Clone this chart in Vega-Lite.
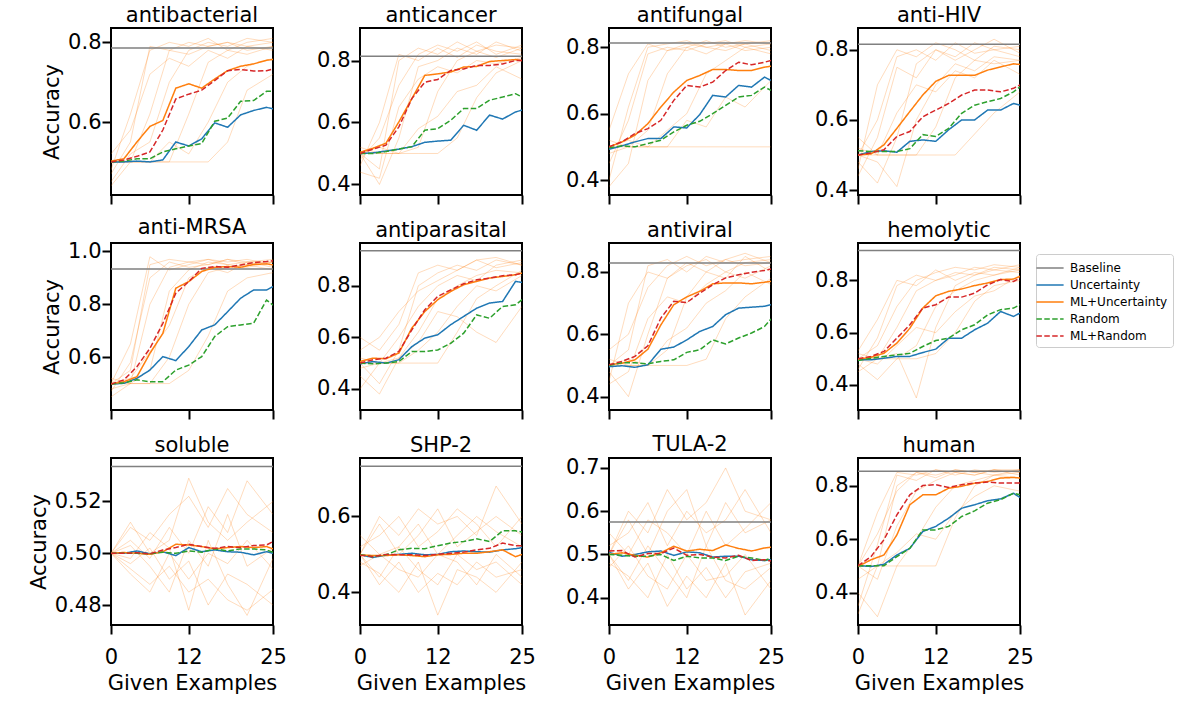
{
"$schema":"https://vega.github.io/schema/vega-lite/v6.json",
"background":"white",
"padding":{"left":27,"top":4,"right":5,"bottom":5},
"config":{
"font":"DejaVu Sans",
"view":{"stroke":"black","strokeWidth":2},
"axis":{"domain":false,"grid":false,"tickColor":"black","tickWidth":2,"tickSize":9,"labelFont":"DejaVu Sans","labelFontSize":21,"labelColor":"black","titleFont":"DejaVu Sans","titleFontSize":21,"titleFontWeight":"normal","titleColor":"black","labelFlush":false,"labelOverlap":false},
"axisX":{"labelPadding":12,"titlePadding":5},
"axisY":{"labelPadding":1,"titlePadding":5},
"title":{"font":"DejaVu Sans","fontSize":21,"fontWeight":"normal","color":"black","anchor":"middle","frame":"group","offset":2},
"legend":{"orient":"none","legendX":925,"legendY":226,"labelFont":"DejaVu Sans","labelFontSize":12,"labelColor":"black","symbolType":"M-1.7,0H1.7","symbolSize":256,"strokeColor":"#cccccc","fillColor":"white","padding":5,"cornerRadius":3,"labelOffset":11,"rowPadding":2}
},
"datasets":{
"antibacterial":[
{"series":"Baseline","x":0,"acc":0.786},{"series":"Baseline","x":25,"acc":0.786},
{"series":"Uncertainty","x":0,"acc":0.5},{"series":"Uncertainty","x":2,"acc":0.5},{"series":"Uncertainty","x":4,"acc":0.502},{"series":"Uncertainty","x":6,"acc":0.5},{"series":"Uncertainty","x":8,"acc":0.505},{"series":"Uncertainty","x":10,"acc":0.55},{"series":"Uncertainty","x":12,"acc":0.54},{"series":"Uncertainty","x":14,"acc":0.558},{"series":"Uncertainty","x":16,"acc":0.598},{"series":"Uncertainty","x":18,"acc":0.587},{"series":"Uncertainty","x":20,"acc":0.618},{"series":"Uncertainty","x":22,"acc":0.629},{"series":"Uncertainty","x":24,"acc":0.637},{"series":"Uncertainty","x":25,"acc":0.633},
{"series":"ML+Uncertainty","x":0,"acc":0.502},{"series":"ML+Uncertainty","x":2,"acc":0.508},{"series":"ML+Uncertainty","x":4,"acc":0.55},{"series":"ML+Uncertainty","x":6,"acc":0.589},{"series":"ML+Uncertainty","x":8,"acc":0.604},{"series":"ML+Uncertainty","x":10,"acc":0.685},{"series":"ML+Uncertainty","x":12,"acc":0.696},{"series":"ML+Uncertainty","x":14,"acc":0.685},{"series":"ML+Uncertainty","x":16,"acc":0.708},{"series":"ML+Uncertainty","x":18,"acc":0.729},{"series":"ML+Uncertainty","x":20,"acc":0.74},{"series":"ML+Uncertainty","x":22,"acc":0.746},{"series":"ML+Uncertainty","x":24,"acc":0.755},{"series":"ML+Uncertainty","x":25,"acc":0.757},
{"series":"Random","x":0,"acc":0.5},{"series":"Random","x":2,"acc":0.502},{"series":"Random","x":4,"acc":0.508},{"series":"Random","x":6,"acc":0.508},{"series":"Random","x":8,"acc":0.525},{"series":"Random","x":10,"acc":0.533},{"series":"Random","x":12,"acc":0.54},{"series":"Random","x":14,"acc":0.546},{"series":"Random","x":16,"acc":0.602},{"series":"Random","x":18,"acc":0.61},{"series":"Random","x":20,"acc":0.652},{"series":"Random","x":22,"acc":0.654},{"series":"Random","x":24,"acc":0.677},{"series":"Random","x":25,"acc":0.677},
{"series":"ML+Random","x":0,"acc":0.5},{"series":"ML+Random","x":2,"acc":0.505},{"series":"ML+Random","x":4,"acc":0.514},{"series":"ML+Random","x":6,"acc":0.525},{"series":"ML+Random","x":8,"acc":0.58},{"series":"ML+Random","x":10,"acc":0.658},{"series":"ML+Random","x":12,"acc":0.67},{"series":"ML+Random","x":14,"acc":0.68},{"series":"ML+Random","x":16,"acc":0.704},{"series":"ML+Random","x":18,"acc":0.729},{"series":"ML+Random","x":20,"acc":0.732},{"series":"ML+Random","x":22,"acc":0.728},{"series":"ML+Random","x":24,"acc":0.729},{"series":"ML+Random","x":25,"acc":0.733}
],
"anticancer":[
{"series":"Baseline","x":0,"acc":0.814},{"series":"Baseline","x":25,"acc":0.814},
{"series":"Uncertainty","x":0,"acc":0.5},{"series":"Uncertainty","x":2,"acc":0.502},{"series":"Uncertainty","x":4,"acc":0.508},{"series":"Uncertainty","x":6,"acc":0.514},{"series":"Uncertainty","x":8,"acc":0.522},{"series":"Uncertainty","x":10,"acc":0.536},{"series":"Uncertainty","x":12,"acc":0.54},{"series":"Uncertainty","x":14,"acc":0.543},{"series":"Uncertainty","x":16,"acc":0.591},{"series":"Uncertainty","x":18,"acc":0.575},{"series":"Uncertainty","x":20,"acc":0.624},{"series":"Uncertainty","x":22,"acc":0.611},{"series":"Uncertainty","x":24,"acc":0.634},{"series":"Uncertainty","x":25,"acc":0.64},
{"series":"ML+Uncertainty","x":0,"acc":0.504},{"series":"ML+Uncertainty","x":2,"acc":0.517},{"series":"ML+Uncertainty","x":4,"acc":0.533},{"series":"ML+Uncertainty","x":6,"acc":0.602},{"series":"ML+Uncertainty","x":8,"acc":0.677},{"series":"ML+Uncertainty","x":10,"acc":0.752},{"series":"ML+Uncertainty","x":12,"acc":0.757},{"series":"ML+Uncertainty","x":14,"acc":0.763},{"series":"ML+Uncertainty","x":16,"acc":0.779},{"series":"ML+Uncertainty","x":18,"acc":0.781},{"series":"ML+Uncertainty","x":20,"acc":0.797},{"series":"ML+Uncertainty","x":22,"acc":0.8},{"series":"ML+Uncertainty","x":24,"acc":0.803},{"series":"ML+Uncertainty","x":25,"acc":0.8},
{"series":"Random","x":0,"acc":0.5},{"series":"Random","x":2,"acc":0.5},{"series":"Random","x":4,"acc":0.506},{"series":"Random","x":6,"acc":0.514},{"series":"Random","x":8,"acc":0.522},{"series":"Random","x":10,"acc":0.575},{"series":"Random","x":12,"acc":0.58},{"series":"Random","x":14,"acc":0.607},{"series":"Random","x":16,"acc":0.645},{"series":"Random","x":18,"acc":0.645},{"series":"Random","x":20,"acc":0.672},{"series":"Random","x":22,"acc":0.682},{"series":"Random","x":24,"acc":0.693},{"series":"Random","x":25,"acc":0.682},
{"series":"ML+Random","x":0,"acc":0.5},{"series":"ML+Random","x":2,"acc":0.514},{"series":"ML+Random","x":4,"acc":0.527},{"series":"ML+Random","x":6,"acc":0.586},{"series":"ML+Random","x":8,"acc":0.677},{"series":"ML+Random","x":10,"acc":0.73},{"series":"ML+Random","x":12,"acc":0.739},{"series":"ML+Random","x":14,"acc":0.768},{"series":"ML+Random","x":16,"acc":0.773},{"series":"ML+Random","x":18,"acc":0.784},{"series":"ML+Random","x":20,"acc":0.784},{"series":"ML+Random","x":22,"acc":0.789},{"series":"ML+Random","x":24,"acc":0.8},{"series":"ML+Random","x":25,"acc":0.8}
],
"antifungal":[
{"series":"Baseline","x":0,"acc":0.813},{"series":"Baseline","x":25,"acc":0.813},
{"series":"Uncertainty","x":0,"acc":0.493},{"series":"Uncertainty","x":2,"acc":0.503},{"series":"Uncertainty","x":4,"acc":0.515},{"series":"Uncertainty","x":6,"acc":0.525},{"series":"Uncertainty","x":8,"acc":0.525},{"series":"Uncertainty","x":10,"acc":0.56},{"series":"Uncertainty","x":12,"acc":0.557},{"series":"Uncertainty","x":14,"acc":0.597},{"series":"Uncertainty","x":16,"acc":0.655},{"series":"Uncertainty","x":18,"acc":0.65},{"series":"Uncertainty","x":20,"acc":0.685},{"series":"Uncertainty","x":22,"acc":0.68},{"series":"Uncertainty","x":24,"acc":0.71},{"series":"Uncertainty","x":25,"acc":0.7},
{"series":"ML+Uncertainty","x":0,"acc":0.5},{"series":"ML+Uncertainty","x":2,"acc":0.515},{"series":"ML+Uncertainty","x":4,"acc":0.535},{"series":"ML+Uncertainty","x":6,"acc":0.57},{"series":"ML+Uncertainty","x":8,"acc":0.62},{"series":"ML+Uncertainty","x":10,"acc":0.665},{"series":"ML+Uncertainty","x":12,"acc":0.7},{"series":"ML+Uncertainty","x":14,"acc":0.715},{"series":"ML+Uncertainty","x":16,"acc":0.733},{"series":"ML+Uncertainty","x":18,"acc":0.733},{"series":"ML+Uncertainty","x":20,"acc":0.73},{"series":"ML+Uncertainty","x":22,"acc":0.73},{"series":"ML+Uncertainty","x":24,"acc":0.74},{"series":"ML+Uncertainty","x":25,"acc":0.743},
{"series":"Random","x":0,"acc":0.497},{"series":"Random","x":2,"acc":0.503},{"series":"Random","x":4,"acc":0.5},{"series":"Random","x":6,"acc":0.51},{"series":"Random","x":8,"acc":0.52},{"series":"Random","x":10,"acc":0.545},{"series":"Random","x":12,"acc":0.565},{"series":"Random","x":14,"acc":0.577},{"series":"Random","x":16,"acc":0.6},{"series":"Random","x":18,"acc":0.625},{"series":"Random","x":20,"acc":0.65},{"series":"Random","x":22,"acc":0.655},{"series":"Random","x":24,"acc":0.68},{"series":"Random","x":25,"acc":0.67},
{"series":"ML+Random","x":0,"acc":0.5},{"series":"ML+Random","x":2,"acc":0.515},{"series":"ML+Random","x":4,"acc":0.54},{"series":"ML+Random","x":6,"acc":0.555},{"series":"ML+Random","x":8,"acc":0.58},{"series":"ML+Random","x":10,"acc":0.64},{"series":"ML+Random","x":12,"acc":0.685},{"series":"ML+Random","x":14,"acc":0.68},{"series":"ML+Random","x":16,"acc":0.695},{"series":"ML+Random","x":18,"acc":0.73},{"series":"ML+Random","x":20,"acc":0.755},{"series":"ML+Random","x":22,"acc":0.747},{"series":"ML+Random","x":24,"acc":0.755},{"series":"ML+Random","x":25,"acc":0.76}
],
"antiHIV":[
{"series":"Baseline","x":0,"acc":0.816},{"series":"Baseline","x":25,"acc":0.816},
{"series":"Uncertainty","x":0,"acc":0.5},{"series":"Uncertainty","x":2,"acc":0.51},{"series":"Uncertainty","x":4,"acc":0.512},{"series":"Uncertainty","x":6,"acc":0.508},{"series":"Uncertainty","x":8,"acc":0.539},{"series":"Uncertainty","x":10,"acc":0.543},{"series":"Uncertainty","x":12,"acc":0.539},{"series":"Uncertainty","x":14,"acc":0.572},{"series":"Uncertainty","x":16,"acc":0.6},{"series":"Uncertainty","x":18,"acc":0.6},{"series":"Uncertainty","x":20,"acc":0.628},{"series":"Uncertainty","x":22,"acc":0.628},{"series":"Uncertainty","x":24,"acc":0.647},{"series":"Uncertainty","x":25,"acc":0.642},
{"series":"ML+Uncertainty","x":0,"acc":0.5},{"series":"ML+Uncertainty","x":2,"acc":0.503},{"series":"ML+Uncertainty","x":4,"acc":0.529},{"series":"ML+Uncertainty","x":6,"acc":0.576},{"series":"ML+Uncertainty","x":8,"acc":0.624},{"series":"ML+Uncertainty","x":10,"acc":0.671},{"series":"ML+Uncertainty","x":12,"acc":0.71},{"series":"ML+Uncertainty","x":14,"acc":0.727},{"series":"ML+Uncertainty","x":16,"acc":0.727},{"series":"ML+Uncertainty","x":18,"acc":0.727},{"series":"ML+Uncertainty","x":20,"acc":0.742},{"series":"ML+Uncertainty","x":22,"acc":0.751},{"series":"ML+Uncertainty","x":24,"acc":0.76},{"series":"ML+Uncertainty","x":25,"acc":0.758},
{"series":"Random","x":0,"acc":0.512},{"series":"Random","x":2,"acc":0.51},{"series":"Random","x":4,"acc":0.51},{"series":"Random","x":6,"acc":0.51},{"series":"Random","x":8,"acc":0.518},{"series":"Random","x":10,"acc":0.558},{"series":"Random","x":12,"acc":0.553},{"series":"Random","x":14,"acc":0.576},{"series":"Random","x":16,"acc":0.619},{"series":"Random","x":18,"acc":0.642},{"series":"Random","x":20,"acc":0.652},{"series":"Random","x":22,"acc":0.661},{"series":"Random","x":24,"acc":0.68},{"series":"Random","x":25,"acc":0.694},
{"series":"ML+Random","x":0,"acc":0.5},{"series":"ML+Random","x":2,"acc":0.506},{"series":"ML+Random","x":4,"acc":0.515},{"series":"ML+Random","x":6,"acc":0.553},{"series":"ML+Random","x":8,"acc":0.567},{"series":"ML+Random","x":10,"acc":0.609},{"series":"ML+Random","x":12,"acc":0.628},{"series":"ML+Random","x":14,"acc":0.647},{"series":"ML+Random","x":16,"acc":0.671},{"series":"ML+Random","x":18,"acc":0.685},{"series":"ML+Random","x":20,"acc":0.685},{"series":"ML+Random","x":22,"acc":0.68},{"series":"ML+Random","x":24,"acc":0.69},{"series":"ML+Random","x":25,"acc":0.7}
],
"antiMRSA":[
{"series":"Baseline","x":0,"acc":0.934},{"series":"Baseline","x":25,"acc":0.934},
{"series":"Uncertainty","x":0,"acc":0.498},{"series":"Uncertainty","x":2,"acc":0.501},{"series":"Uncertainty","x":4,"acc":0.52},{"series":"Uncertainty","x":6,"acc":0.551},{"series":"Uncertainty","x":8,"acc":0.602},{"series":"Uncertainty","x":10,"acc":0.587},{"series":"Uncertainty","x":12,"acc":0.64},{"series":"Uncertainty","x":14,"acc":0.703},{"series":"Uncertainty","x":16,"acc":0.722},{"series":"Uncertainty","x":18,"acc":0.772},{"series":"Uncertainty","x":20,"acc":0.823},{"series":"Uncertainty","x":22,"acc":0.854},{"series":"Uncertainty","x":24,"acc":0.854},{"series":"Uncertainty","x":25,"acc":0.867},
{"series":"ML+Uncertainty","x":0,"acc":0.498},{"series":"ML+Uncertainty","x":2,"acc":0.507},{"series":"ML+Uncertainty","x":4,"acc":0.526},{"series":"ML+Uncertainty","x":6,"acc":0.614},{"series":"ML+Uncertainty","x":8,"acc":0.69},{"series":"ML+Uncertainty","x":10,"acc":0.861},{"series":"ML+Uncertainty","x":12,"acc":0.886},{"series":"ML+Uncertainty","x":14,"acc":0.924},{"series":"ML+Uncertainty","x":16,"acc":0.94},{"series":"ML+Uncertainty","x":18,"acc":0.943},{"series":"ML+Uncertainty","x":20,"acc":0.94},{"series":"ML+Uncertainty","x":22,"acc":0.951},{"series":"ML+Uncertainty","x":24,"acc":0.953},{"series":"ML+Uncertainty","x":25,"acc":0.949},
{"series":"Random","x":0,"acc":0.498},{"series":"Random","x":2,"acc":0.503},{"series":"Random","x":4,"acc":0.514},{"series":"Random","x":6,"acc":0.507},{"series":"Random","x":8,"acc":0.507},{"series":"Random","x":10,"acc":0.551},{"series":"Random","x":12,"acc":0.57},{"series":"Random","x":14,"acc":0.602},{"series":"Random","x":16,"acc":0.678},{"series":"Random","x":18,"acc":0.715},{"series":"Random","x":20,"acc":0.722},{"series":"Random","x":22,"acc":0.728},{"series":"Random","x":24,"acc":0.816},{"series":"Random","x":25,"acc":0.797},
{"series":"ML+Random","x":0,"acc":0.498},{"series":"ML+Random","x":2,"acc":0.514},{"series":"ML+Random","x":4,"acc":0.564},{"series":"ML+Random","x":6,"acc":0.633},{"series":"ML+Random","x":8,"acc":0.728},{"series":"ML+Random","x":10,"acc":0.842},{"series":"ML+Random","x":12,"acc":0.886},{"series":"ML+Random","x":14,"acc":0.936},{"series":"ML+Random","x":16,"acc":0.943},{"series":"ML+Random","x":18,"acc":0.94},{"series":"ML+Random","x":20,"acc":0.949},{"series":"ML+Random","x":22,"acc":0.958},{"series":"ML+Random","x":24,"acc":0.962},{"series":"ML+Random","x":25,"acc":0.965}
],
"antiparasital":[
{"series":"Baseline","x":0,"acc":0.936},{"series":"Baseline","x":25,"acc":0.936},
{"series":"Uncertainty","x":0,"acc":0.497},{"series":"Uncertainty","x":2,"acc":0.506},{"series":"Uncertainty","x":4,"acc":0.5},{"series":"Uncertainty","x":6,"acc":0.513},{"series":"Uncertainty","x":8,"acc":0.564},{"series":"Uncertainty","x":10,"acc":0.597},{"series":"Uncertainty","x":12,"acc":0.61},{"series":"Uncertainty","x":14,"acc":0.649},{"series":"Uncertainty","x":16,"acc":0.681},{"series":"Uncertainty","x":18,"acc":0.713},{"series":"Uncertainty","x":20,"acc":0.733},{"series":"Uncertainty","x":22,"acc":0.739},{"series":"Uncertainty","x":24,"acc":0.817},{"series":"Uncertainty","x":25,"acc":0.813},
{"series":"ML+Uncertainty","x":0,"acc":0.506},{"series":"ML+Uncertainty","x":2,"acc":0.519},{"series":"ML+Uncertainty","x":4,"acc":0.517},{"series":"ML+Uncertainty","x":6,"acc":0.539},{"series":"ML+Uncertainty","x":8,"acc":0.636},{"series":"ML+Uncertainty","x":10,"acc":0.7},{"series":"ML+Uncertainty","x":12,"acc":0.746},{"series":"ML+Uncertainty","x":14,"acc":0.778},{"series":"ML+Uncertainty","x":16,"acc":0.804},{"series":"ML+Uncertainty","x":18,"acc":0.817},{"series":"ML+Uncertainty","x":20,"acc":0.83},{"series":"ML+Uncertainty","x":22,"acc":0.836},{"series":"ML+Uncertainty","x":24,"acc":0.843},{"series":"ML+Uncertainty","x":25,"acc":0.849},
{"series":"Random","x":0,"acc":0.5},{"series":"Random","x":2,"acc":0.497},{"series":"Random","x":4,"acc":0.5},{"series":"Random","x":6,"acc":0.506},{"series":"Random","x":8,"acc":0.545},{"series":"Random","x":10,"acc":0.545},{"series":"Random","x":12,"acc":0.551},{"series":"Random","x":14,"acc":0.577},{"series":"Random","x":16,"acc":0.616},{"series":"Random","x":18,"acc":0.687},{"series":"Random","x":20,"acc":0.674},{"series":"Random","x":22,"acc":0.72},{"series":"Random","x":24,"acc":0.726},{"series":"Random","x":25,"acc":0.746},
{"series":"ML+Random","x":0,"acc":0.5},{"series":"ML+Random","x":2,"acc":0.513},{"series":"ML+Random","x":4,"acc":0.519},{"series":"ML+Random","x":6,"acc":0.545},{"series":"ML+Random","x":8,"acc":0.629},{"series":"ML+Random","x":10,"acc":0.707},{"series":"ML+Random","x":12,"acc":0.759},{"series":"ML+Random","x":14,"acc":0.784},{"series":"ML+Random","x":16,"acc":0.808},{"series":"ML+Random","x":18,"acc":0.823},{"series":"ML+Random","x":20,"acc":0.83},{"series":"ML+Random","x":22,"acc":0.839},{"series":"ML+Random","x":24,"acc":0.843},{"series":"ML+Random","x":25,"acc":0.849}
],
"antiviral":[
{"series":"Baseline","x":0,"acc":0.829},{"series":"Baseline","x":25,"acc":0.829},
{"series":"Uncertainty","x":0,"acc":0.496},{"series":"Uncertainty","x":2,"acc":0.499},{"series":"Uncertainty","x":4,"acc":0.494},{"series":"Uncertainty","x":6,"acc":0.502},{"series":"Uncertainty","x":8,"acc":0.552},{"series":"Uncertainty","x":10,"acc":0.559},{"series":"Uncertainty","x":12,"acc":0.582},{"series":"Uncertainty","x":14,"acc":0.609},{"series":"Uncertainty","x":16,"acc":0.625},{"series":"Uncertainty","x":18,"acc":0.663},{"series":"Uncertainty","x":20,"acc":0.684},{"series":"Uncertainty","x":22,"acc":0.687},{"series":"Uncertainty","x":24,"acc":0.69},{"series":"Uncertainty","x":25,"acc":0.695},
{"series":"ML+Uncertainty","x":0,"acc":0.502},{"series":"ML+Uncertainty","x":2,"acc":0.507},{"series":"ML+Uncertainty","x":4,"acc":0.518},{"series":"ML+Uncertainty","x":6,"acc":0.552},{"series":"ML+Uncertainty","x":8,"acc":0.63},{"series":"ML+Uncertainty","x":10,"acc":0.695},{"series":"ML+Uncertainty","x":12,"acc":0.72},{"series":"ML+Uncertainty","x":14,"acc":0.738},{"series":"ML+Uncertainty","x":16,"acc":0.762},{"series":"ML+Uncertainty","x":18,"acc":0.765},{"series":"ML+Uncertainty","x":20,"acc":0.765},{"series":"ML+Uncertainty","x":22,"acc":0.762},{"series":"ML+Uncertainty","x":24,"acc":0.767},{"series":"ML+Uncertainty","x":25,"acc":0.77},
{"series":"Random","x":0,"acc":0.5},{"series":"Random","x":2,"acc":0.509},{"series":"Random","x":4,"acc":0.509},{"series":"Random","x":6,"acc":0.505},{"series":"Random","x":8,"acc":0.513},{"series":"Random","x":10,"acc":0.518},{"series":"Random","x":12,"acc":0.542},{"series":"Random","x":14,"acc":0.55},{"series":"Random","x":16,"acc":0.582},{"series":"Random","x":18,"acc":0.569},{"series":"Random","x":20,"acc":0.588},{"series":"Random","x":22,"acc":0.604},{"series":"Random","x":24,"acc":0.625},{"series":"Random","x":25,"acc":0.649},
{"series":"ML+Random","x":0,"acc":0.502},{"series":"ML+Random","x":2,"acc":0.513},{"series":"ML+Random","x":4,"acc":0.529},{"series":"ML+Random","x":6,"acc":0.563},{"series":"ML+Random","x":8,"acc":0.652},{"series":"ML+Random","x":10,"acc":0.706},{"series":"ML+Random","x":12,"acc":0.702},{"series":"ML+Random","x":14,"acc":0.732},{"series":"ML+Random","x":16,"acc":0.759},{"series":"ML+Random","x":18,"acc":0.781},{"series":"ML+Random","x":20,"acc":0.791},{"series":"ML+Random","x":22,"acc":0.799},{"series":"ML+Random","x":24,"acc":0.805},{"series":"ML+Random","x":25,"acc":0.81}
],
"hemolytic":[
{"series":"Baseline","x":0,"acc":0.914},{"series":"Baseline","x":25,"acc":0.914},
{"series":"Uncertainty","x":0,"acc":0.496},{"series":"Uncertainty","x":2,"acc":0.496},{"series":"Uncertainty","x":4,"acc":0.502},{"series":"Uncertainty","x":6,"acc":0.509},{"series":"Uncertainty","x":8,"acc":0.509},{"series":"Uncertainty","x":10,"acc":0.524},{"series":"Uncertainty","x":12,"acc":0.537},{"series":"Uncertainty","x":14,"acc":0.579},{"series":"Uncertainty","x":16,"acc":0.579},{"series":"Uncertainty","x":18,"acc":0.611},{"series":"Uncertainty","x":20,"acc":0.636},{"series":"Uncertainty","x":22,"acc":0.681},{"series":"Uncertainty","x":24,"acc":0.662},{"series":"Uncertainty","x":25,"acc":0.675},
{"series":"ML+Uncertainty","x":0,"acc":0.498},{"series":"ML+Uncertainty","x":2,"acc":0.506},{"series":"ML+Uncertainty","x":4,"acc":0.521},{"series":"ML+Uncertainty","x":6,"acc":0.56},{"series":"ML+Uncertainty","x":8,"acc":0.617},{"series":"ML+Uncertainty","x":10,"acc":0.694},{"series":"ML+Uncertainty","x":12,"acc":0.741},{"series":"ML+Uncertainty","x":14,"acc":0.758},{"series":"ML+Uncertainty","x":16,"acc":0.767},{"series":"ML+Uncertainty","x":18,"acc":0.78},{"series":"ML+Uncertainty","x":20,"acc":0.79},{"series":"ML+Uncertainty","x":22,"acc":0.803},{"series":"ML+Uncertainty","x":24,"acc":0.805},{"series":"ML+Uncertainty","x":25,"acc":0.815},
{"series":"Random","x":0,"acc":0.493},{"series":"Random","x":2,"acc":0.502},{"series":"Random","x":4,"acc":0.509},{"series":"Random","x":6,"acc":0.515},{"series":"Random","x":8,"acc":0.521},{"series":"Random","x":10,"acc":0.547},{"series":"Random","x":12,"acc":0.57},{"series":"Random","x":14,"acc":0.579},{"series":"Random","x":16,"acc":0.611},{"series":"Random","x":18,"acc":0.63},{"series":"Random","x":20,"acc":0.668},{"series":"Random","x":22,"acc":0.688},{"series":"Random","x":24,"acc":0.694},{"series":"Random","x":25,"acc":0.707},
{"series":"ML+Random","x":0,"acc":0.5},{"series":"ML+Random","x":2,"acc":0.509},{"series":"ML+Random","x":4,"acc":0.528},{"series":"ML+Random","x":6,"acc":0.579},{"series":"ML+Random","x":8,"acc":0.63},{"series":"ML+Random","x":10,"acc":0.694},{"series":"ML+Random","x":12,"acc":0.707},{"series":"ML+Random","x":14,"acc":0.736},{"series":"ML+Random","x":16,"acc":0.736},{"series":"ML+Random","x":18,"acc":0.751},{"series":"ML+Random","x":20,"acc":0.783},{"series":"ML+Random","x":22,"acc":0.803},{"series":"ML+Random","x":24,"acc":0.796},{"series":"ML+Random","x":25,"acc":0.809}
],
"soluble":[
{"series":"Baseline","x":0,"acc":0.5335},{"series":"Baseline","x":25,"acc":0.5335},
{"series":"Uncertainty","x":0,"acc":0.5},{"series":"Uncertainty","x":2,"acc":0.5},{"series":"Uncertainty","x":4,"acc":0.5009},{"series":"Uncertainty","x":6,"acc":0.4998},{"series":"Uncertainty","x":8,"acc":0.5006},{"series":"Uncertainty","x":10,"acc":0.4991},{"series":"Uncertainty","x":12,"acc":0.5022},{"series":"Uncertainty","x":14,"acc":0.5006},{"series":"Uncertainty","x":16,"acc":0.5013},{"series":"Uncertainty","x":18,"acc":0.5006},{"series":"Uncertainty","x":20,"acc":0.5004},{"series":"Uncertainty","x":22,"acc":0.4994},{"series":"Uncertainty","x":24,"acc":0.5006},{"series":"Uncertainty","x":25,"acc":0.5},
{"series":"ML+Uncertainty","x":0,"acc":0.5},{"series":"ML+Uncertainty","x":2,"acc":0.5003},{"series":"ML+Uncertainty","x":4,"acc":0.5},{"series":"ML+Uncertainty","x":6,"acc":0.4996},{"series":"ML+Uncertainty","x":8,"acc":0.5006},{"series":"ML+Uncertainty","x":10,"acc":0.5035},{"series":"ML+Uncertainty","x":12,"acc":0.5032},{"series":"ML+Uncertainty","x":14,"acc":0.5026},{"series":"ML+Uncertainty","x":16,"acc":0.5017},{"series":"ML+Uncertainty","x":18,"acc":0.5022},{"series":"ML+Uncertainty","x":20,"acc":0.5026},{"series":"ML+Uncertainty","x":22,"acc":0.5022},{"series":"ML+Uncertainty","x":24,"acc":0.5026},{"series":"ML+Uncertainty","x":25,"acc":0.5017},
{"series":"Random","x":0,"acc":0.5},{"series":"Random","x":2,"acc":0.5},{"series":"Random","x":4,"acc":0.5},{"series":"Random","x":6,"acc":0.4998},{"series":"Random","x":8,"acc":0.5004},{"series":"Random","x":10,"acc":0.5},{"series":"Random","x":12,"acc":0.5009},{"series":"Random","x":14,"acc":0.5004},{"series":"Random","x":16,"acc":0.5017},{"series":"Random","x":18,"acc":0.5009},{"series":"Random","x":20,"acc":0.5017},{"series":"Random","x":22,"acc":0.5017},{"series":"Random","x":24,"acc":0.5013},{"series":"Random","x":25,"acc":0.5004},
{"series":"ML+Random","x":0,"acc":0.5},{"series":"ML+Random","x":2,"acc":0.5},{"series":"ML+Random","x":4,"acc":0.5002},{"series":"ML+Random","x":6,"acc":0.4998},{"series":"ML+Random","x":8,"acc":0.5013},{"series":"ML+Random","x":10,"acc":0.5022},{"series":"ML+Random","x":12,"acc":0.5035},{"series":"ML+Random","x":14,"acc":0.5026},{"series":"ML+Random","x":16,"acc":0.5019},{"series":"ML+Random","x":18,"acc":0.5026},{"series":"ML+Random","x":20,"acc":0.5022},{"series":"ML+Random","x":22,"acc":0.503},{"series":"ML+Random","x":24,"acc":0.5032},{"series":"ML+Random","x":25,"acc":0.5045}
],
"SHP2":[
{"series":"Baseline","x":0,"acc":0.732},{"series":"Baseline","x":25,"acc":0.732},
{"series":"Uncertainty","x":0,"acc":0.499},{"series":"Uncertainty","x":2,"acc":0.492},{"series":"Uncertainty","x":4,"acc":0.498},{"series":"Uncertainty","x":6,"acc":0.5},{"series":"Uncertainty","x":8,"acc":0.503},{"series":"Uncertainty","x":10,"acc":0.499},{"series":"Uncertainty","x":12,"acc":0.5},{"series":"Uncertainty","x":14,"acc":0.507},{"series":"Uncertainty","x":16,"acc":0.509},{"series":"Uncertainty","x":18,"acc":0.507},{"series":"Uncertainty","x":20,"acc":0.506},{"series":"Uncertainty","x":22,"acc":0.512},{"series":"Uncertainty","x":24,"acc":0.515},{"series":"Uncertainty","x":25,"acc":0.518},
{"series":"ML+Uncertainty","x":0,"acc":0.499},{"series":"ML+Uncertainty","x":2,"acc":0.497},{"series":"ML+Uncertainty","x":4,"acc":0.497},{"series":"ML+Uncertainty","x":6,"acc":0.499},{"series":"ML+Uncertainty","x":8,"acc":0.497},{"series":"ML+Uncertainty","x":10,"acc":0.494},{"series":"ML+Uncertainty","x":12,"acc":0.499},{"series":"ML+Uncertainty","x":14,"acc":0.5},{"series":"ML+Uncertainty","x":16,"acc":0.503},{"series":"ML+Uncertainty","x":18,"acc":0.503},{"series":"ML+Uncertainty","x":20,"acc":0.507},{"series":"ML+Uncertainty","x":22,"acc":0.512},{"series":"ML+Uncertainty","x":24,"acc":0.494},{"series":"ML+Uncertainty","x":25,"acc":0.5},
{"series":"Random","x":0,"acc":0.499},{"series":"Random","x":2,"acc":0.494},{"series":"Random","x":4,"acc":0.499},{"series":"Random","x":6,"acc":0.512},{"series":"Random","x":8,"acc":0.516},{"series":"Random","x":10,"acc":0.515},{"series":"Random","x":12,"acc":0.523},{"series":"Random","x":14,"acc":0.53},{"series":"Random","x":16,"acc":0.534},{"series":"Random","x":18,"acc":0.541},{"series":"Random","x":20,"acc":0.534},{"series":"Random","x":22,"acc":0.562},{"series":"Random","x":24,"acc":0.562},{"series":"Random","x":25,"acc":0.559},
{"series":"ML+Random","x":0,"acc":0.498},{"series":"ML+Random","x":2,"acc":0.494},{"series":"ML+Random","x":4,"acc":0.5},{"series":"ML+Random","x":6,"acc":0.499},{"series":"ML+Random","x":8,"acc":0.499},{"series":"ML+Random","x":10,"acc":0.497},{"series":"ML+Random","x":12,"acc":0.5},{"series":"ML+Random","x":14,"acc":0.503},{"series":"ML+Random","x":16,"acc":0.506},{"series":"ML+Random","x":18,"acc":0.512},{"series":"ML+Random","x":20,"acc":0.516},{"series":"ML+Random","x":22,"acc":0.53},{"series":"ML+Random","x":24,"acc":0.523},{"series":"ML+Random","x":25,"acc":0.523}
],
"TULA2":[
{"series":"Baseline","x":0,"acc":0.575},{"series":"Baseline","x":25,"acc":0.575},
{"series":"Uncertainty","x":0,"acc":0.505},{"series":"Uncertainty","x":2,"acc":0.496},{"series":"Uncertainty","x":4,"acc":0.5},{"series":"Uncertainty","x":6,"acc":0.506},{"series":"Uncertainty","x":8,"acc":0.508},{"series":"Uncertainty","x":10,"acc":0.498},{"series":"Uncertainty","x":12,"acc":0.506},{"series":"Uncertainty","x":14,"acc":0.504},{"series":"Uncertainty","x":16,"acc":0.494},{"series":"Uncertainty","x":18,"acc":0.496},{"series":"Uncertainty","x":20,"acc":0.496},{"series":"Uncertainty","x":22,"acc":0.488},{"series":"Uncertainty","x":24,"acc":0.486},{"series":"Uncertainty","x":25,"acc":0.488},
{"series":"ML+Uncertainty","x":0,"acc":0.5},{"series":"ML+Uncertainty","x":2,"acc":0.504},{"series":"ML+Uncertainty","x":4,"acc":0.498},{"series":"ML+Uncertainty","x":6,"acc":0.494},{"series":"ML+Uncertainty","x":8,"acc":0.504},{"series":"ML+Uncertainty","x":10,"acc":0.519},{"series":"ML+Uncertainty","x":12,"acc":0.508},{"series":"ML+Uncertainty","x":14,"acc":0.512},{"series":"ML+Uncertainty","x":16,"acc":0.509},{"series":"ML+Uncertainty","x":18,"acc":0.522},{"series":"ML+Uncertainty","x":20,"acc":0.514},{"series":"ML+Uncertainty","x":22,"acc":0.508},{"series":"ML+Uncertainty","x":24,"acc":0.515},{"series":"ML+Uncertainty","x":25,"acc":0.517},
{"series":"Random","x":0,"acc":0.5},{"series":"Random","x":2,"acc":0.498},{"series":"Random","x":4,"acc":0.496},{"series":"Random","x":6,"acc":0.496},{"series":"Random","x":8,"acc":0.5},{"series":"Random","x":10,"acc":0.486},{"series":"Random","x":12,"acc":0.496},{"series":"Random","x":14,"acc":0.492},{"series":"Random","x":16,"acc":0.492},{"series":"Random","x":18,"acc":0.486},{"series":"Random","x":20,"acc":0.496},{"series":"Random","x":22,"acc":0.492},{"series":"Random","x":24,"acc":0.486},{"series":"Random","x":25,"acc":0.492},
{"series":"ML+Random","x":0,"acc":0.508},{"series":"ML+Random","x":2,"acc":0.509},{"series":"ML+Random","x":4,"acc":0.494},{"series":"ML+Random","x":6,"acc":0.502},{"series":"ML+Random","x":8,"acc":0.502},{"series":"ML+Random","x":10,"acc":0.515},{"series":"ML+Random","x":12,"acc":0.498},{"series":"ML+Random","x":14,"acc":0.5},{"series":"ML+Random","x":16,"acc":0.494},{"series":"ML+Random","x":18,"acc":0.492},{"series":"ML+Random","x":20,"acc":0.498},{"series":"ML+Random","x":22,"acc":0.486},{"series":"ML+Random","x":24,"acc":0.488},{"series":"ML+Random","x":25,"acc":0.485}
],
"human":[
{"series":"Baseline","x":0,"acc":0.854},{"series":"Baseline","x":25,"acc":0.854},
{"series":"Uncertainty","x":0,"acc":0.501},{"series":"Uncertainty","x":2,"acc":0.498},{"series":"Uncertainty","x":4,"acc":0.506},{"series":"Uncertainty","x":6,"acc":0.541},{"series":"Uncertainty","x":8,"acc":0.566},{"series":"Uncertainty","x":10,"acc":0.629},{"series":"Uncertainty","x":12,"acc":0.648},{"series":"Uncertainty","x":14,"acc":0.679},{"series":"Uncertainty","x":16,"acc":0.716},{"series":"Uncertainty","x":18,"acc":0.729},{"series":"Uncertainty","x":20,"acc":0.744},{"series":"Uncertainty","x":22,"acc":0.751},{"series":"Uncertainty","x":24,"acc":0.772},{"series":"Uncertainty","x":25,"acc":0.756},
{"series":"ML+Uncertainty","x":0,"acc":0.498},{"series":"ML+Uncertainty","x":2,"acc":0.523},{"series":"ML+Uncertainty","x":4,"acc":0.541},{"series":"ML+Uncertainty","x":6,"acc":0.616},{"series":"ML+Uncertainty","x":8,"acc":0.729},{"series":"ML+Uncertainty","x":10,"acc":0.766},{"series":"ML+Uncertainty","x":12,"acc":0.766},{"series":"ML+Uncertainty","x":14,"acc":0.791},{"series":"ML+Uncertainty","x":16,"acc":0.798},{"series":"ML+Uncertainty","x":18,"acc":0.81},{"series":"ML+Uncertainty","x":20,"acc":0.816},{"series":"ML+Uncertainty","x":22,"acc":0.829},{"series":"ML+Uncertainty","x":24,"acc":0.831},{"series":"ML+Uncertainty","x":25,"acc":0.829},
{"series":"Random","x":0,"acc":0.5},{"series":"Random","x":2,"acc":0.501},{"series":"Random","x":4,"acc":0.501},{"series":"Random","x":6,"acc":0.535},{"series":"Random","x":8,"acc":0.566},{"series":"Random","x":10,"acc":0.635},{"series":"Random","x":12,"acc":0.635},{"series":"Random","x":14,"acc":0.648},{"series":"Random","x":16,"acc":0.685},{"series":"Random","x":18,"acc":0.706},{"series":"Random","x":20,"acc":0.735},{"series":"Random","x":22,"acc":0.748},{"series":"Random","x":24,"acc":0.772},{"series":"Random","x":25,"acc":0.766},
{"series":"ML+Random","x":0,"acc":0.5},{"series":"ML+Random","x":2,"acc":0.535},{"series":"ML+Random","x":4,"acc":0.598},{"series":"ML+Random","x":6,"acc":0.691},{"series":"ML+Random","x":8,"acc":0.766},{"series":"ML+Random","x":10,"acc":0.801},{"series":"ML+Random","x":12,"acc":0.804},{"series":"ML+Random","x":14,"acc":0.794},{"series":"ML+Random","x":16,"acc":0.804},{"series":"ML+Random","x":18,"acc":0.81},{"series":"ML+Random","x":20,"acc":0.814},{"series":"ML+Random","x":22,"acc":0.81},{"series":"ML+Random","x":24,"acc":0.81},{"series":"ML+Random","x":25,"acc":0.81}
],
"antibacterial_runs":[
{"run":1,"x":0,"acc":0.47},{"run":1,"x":3,"acc":0.55},{"run":1,"x":6,"acc":0.79},{"run":1,"x":9,"acc":0.78},{"run":1,"x":12,"acc":0.8},{"run":1,"x":15,"acc":0.79},{"run":1,"x":18,"acc":0.8},{"run":1,"x":21,"acc":0.79},{"run":1,"x":25,"acc":0.8},
{"run":2,"x":0,"acc":0.5},{"run":2,"x":3,"acc":0.5},{"run":2,"x":6,"acc":0.62},{"run":2,"x":9,"acc":0.78},{"run":2,"x":12,"acc":0.77},{"run":2,"x":15,"acc":0.79},{"run":2,"x":18,"acc":0.8},{"run":2,"x":21,"acc":0.78},{"run":2,"x":25,"acc":0.79},
{"run":3,"x":0,"acc":0.45},{"run":3,"x":3,"acc":0.52},{"run":3,"x":6,"acc":0.55},{"run":3,"x":9,"acc":0.7},{"run":3,"x":12,"acc":0.78},{"run":3,"x":15,"acc":0.8},{"run":3,"x":18,"acc":0.79},{"run":3,"x":21,"acc":0.81},{"run":3,"x":25,"acc":0.8},
{"run":4,"x":0,"acc":0.5},{"run":4,"x":3,"acc":0.5},{"run":4,"x":6,"acc":0.5},{"run":4,"x":9,"acc":0.5},{"run":4,"x":12,"acc":0.62},{"run":4,"x":15,"acc":0.75},{"run":4,"x":18,"acc":0.78},{"run":4,"x":21,"acc":0.77},{"run":4,"x":25,"acc":0.79},
{"run":5,"x":0,"acc":0.52},{"run":5,"x":3,"acc":0.58},{"run":5,"x":6,"acc":0.72},{"run":5,"x":9,"acc":0.76},{"run":5,"x":12,"acc":0.74},{"run":5,"x":15,"acc":0.78},{"run":5,"x":18,"acc":0.76},{"run":5,"x":21,"acc":0.79},{"run":5,"x":25,"acc":0.78},
{"run":6,"x":0,"acc":0.44},{"run":6,"x":3,"acc":0.5},{"run":6,"x":6,"acc":0.5},{"run":6,"x":9,"acc":0.55},{"run":6,"x":12,"acc":0.52},{"run":6,"x":15,"acc":0.6},{"run":6,"x":18,"acc":0.7},{"run":6,"x":21,"acc":0.74},{"run":6,"x":25,"acc":0.76},
{"run":7,"x":0,"acc":0.5},{"run":7,"x":3,"acc":0.5},{"run":7,"x":6,"acc":0.5},{"run":7,"x":9,"acc":0.5},{"run":7,"x":12,"acc":0.5},{"run":7,"x":15,"acc":0.5},{"run":7,"x":18,"acc":0.55},{"run":7,"x":21,"acc":0.68},{"run":7,"x":25,"acc":0.72},
{"run":8,"x":0,"acc":0.48},{"run":8,"x":3,"acc":0.62},{"run":8,"x":6,"acc":0.78},{"run":8,"x":9,"acc":0.8},{"run":8,"x":12,"acc":0.79},{"run":8,"x":15,"acc":0.81},{"run":8,"x":18,"acc":0.78},{"run":8,"x":21,"acc":0.8},{"run":8,"x":25,"acc":0.81}
],
"anticancer_runs":[
{"run":1,"x":0,"acc":0.5},{"run":1,"x":3,"acc":0.45},{"run":1,"x":6,"acc":0.8},{"run":1,"x":9,"acc":0.84},{"run":1,"x":12,"acc":0.82},{"run":1,"x":15,"acc":0.86},{"run":1,"x":18,"acc":0.83},{"run":1,"x":21,"acc":0.85},{"run":1,"x":25,"acc":0.84},
{"run":2,"x":0,"acc":0.48},{"run":2,"x":3,"acc":0.55},{"run":2,"x":6,"acc":0.72},{"run":2,"x":9,"acc":0.82},{"run":2,"x":12,"acc":0.85},{"run":2,"x":15,"acc":0.83},{"run":2,"x":18,"acc":0.86},{"run":2,"x":21,"acc":0.82},{"run":2,"x":25,"acc":0.85},
{"run":3,"x":0,"acc":0.5},{"run":3,"x":3,"acc":0.4},{"run":3,"x":6,"acc":0.55},{"run":3,"x":9,"acc":0.78},{"run":3,"x":12,"acc":0.8},{"run":3,"x":15,"acc":0.84},{"run":3,"x":18,"acc":0.82},{"run":3,"x":21,"acc":0.86},{"run":3,"x":25,"acc":0.83},
{"run":4,"x":0,"acc":0.52},{"run":4,"x":3,"acc":0.5},{"run":4,"x":6,"acc":0.5},{"run":4,"x":9,"acc":0.52},{"run":4,"x":12,"acc":0.7},{"run":4,"x":15,"acc":0.8},{"run":4,"x":18,"acc":0.83},{"run":4,"x":21,"acc":0.81},{"run":4,"x":25,"acc":0.84},
{"run":5,"x":0,"acc":0.46},{"run":5,"x":3,"acc":0.6},{"run":5,"x":6,"acc":0.82},{"run":5,"x":9,"acc":0.8},{"run":5,"x":12,"acc":0.84},{"run":5,"x":15,"acc":0.81},{"run":5,"x":18,"acc":0.85},{"run":5,"x":21,"acc":0.83},{"run":5,"x":25,"acc":0.82},
{"run":6,"x":0,"acc":0.5},{"run":6,"x":3,"acc":0.5},{"run":6,"x":6,"acc":0.5},{"run":6,"x":9,"acc":0.5},{"run":6,"x":12,"acc":0.5},{"run":6,"x":15,"acc":0.55},{"run":6,"x":18,"acc":0.68},{"run":6,"x":21,"acc":0.76},{"run":6,"x":25,"acc":0.8},
{"run":7,"x":0,"acc":0.44},{"run":7,"x":3,"acc":0.42},{"run":7,"x":6,"acc":0.65},{"run":7,"x":9,"acc":0.74},{"run":7,"x":12,"acc":0.78},{"run":7,"x":15,"acc":0.76},{"run":7,"x":18,"acc":0.8},{"run":7,"x":21,"acc":0.79},{"run":7,"x":25,"acc":0.81},
{"run":8,"x":0,"acc":0.5},{"run":8,"x":3,"acc":0.52},{"run":8,"x":6,"acc":0.5},{"run":8,"x":9,"acc":0.58},{"run":8,"x":12,"acc":0.62},{"run":8,"x":15,"acc":0.7},{"run":8,"x":18,"acc":0.72},{"run":8,"x":21,"acc":0.78},{"run":8,"x":25,"acc":0.74}
],
"antifungal_runs":[
{"run":1,"x":0,"acc":0.4},{"run":1,"x":3,"acc":0.62},{"run":1,"x":6,"acc":0.8},{"run":1,"x":9,"acc":0.81},{"run":1,"x":12,"acc":0.82},{"run":1,"x":15,"acc":0.8},{"run":1,"x":18,"acc":0.81},{"run":1,"x":21,"acc":0.82},{"run":1,"x":25,"acc":0.81},
{"run":2,"x":0,"acc":0.5},{"run":2,"x":3,"acc":0.5},{"run":2,"x":6,"acc":0.5},{"run":2,"x":9,"acc":0.5},{"run":2,"x":12,"acc":0.5},{"run":2,"x":15,"acc":0.5},{"run":2,"x":18,"acc":0.5},{"run":2,"x":21,"acc":0.5},{"run":2,"x":25,"acc":0.5},
{"run":3,"x":0,"acc":0.45},{"run":3,"x":3,"acc":0.58},{"run":3,"x":6,"acc":0.78},{"run":3,"x":9,"acc":0.8},{"run":3,"x":12,"acc":0.79},{"run":3,"x":15,"acc":0.81},{"run":3,"x":18,"acc":0.82},{"run":3,"x":21,"acc":0.8},{"run":3,"x":25,"acc":0.81},
{"run":4,"x":0,"acc":0.52},{"run":4,"x":3,"acc":0.5},{"run":4,"x":6,"acc":0.55},{"run":4,"x":9,"acc":0.72},{"run":4,"x":12,"acc":0.8},{"run":4,"x":15,"acc":0.78},{"run":4,"x":18,"acc":0.81},{"run":4,"x":21,"acc":0.79},{"run":4,"x":25,"acc":0.8},
{"run":5,"x":0,"acc":0.38},{"run":5,"x":3,"acc":0.45},{"run":5,"x":6,"acc":0.7},{"run":5,"x":9,"acc":0.79},{"run":5,"x":12,"acc":0.81},{"run":5,"x":15,"acc":0.8},{"run":5,"x":18,"acc":0.79},{"run":5,"x":21,"acc":0.81},{"run":5,"x":25,"acc":0.82},
{"run":6,"x":0,"acc":0.5},{"run":6,"x":3,"acc":0.52},{"run":6,"x":6,"acc":0.5},{"run":6,"x":9,"acc":0.55},{"run":6,"x":12,"acc":0.6},{"run":6,"x":15,"acc":0.72},{"run":6,"x":18,"acc":0.76},{"run":6,"x":21,"acc":0.8},{"run":6,"x":25,"acc":0.78},
{"run":7,"x":0,"acc":0.48},{"run":7,"x":3,"acc":0.5},{"run":7,"x":6,"acc":0.5},{"run":7,"x":9,"acc":0.5},{"run":7,"x":12,"acc":0.58},{"run":7,"x":15,"acc":0.56},{"run":7,"x":18,"acc":0.65},{"run":7,"x":21,"acc":0.62},{"run":7,"x":25,"acc":0.7},
{"run":8,"x":0,"acc":0.55},{"run":8,"x":3,"acc":0.72},{"run":8,"x":6,"acc":0.81},{"run":8,"x":9,"acc":0.79},{"run":8,"x":12,"acc":0.8},{"run":8,"x":15,"acc":0.82},{"run":8,"x":18,"acc":0.8},{"run":8,"x":21,"acc":0.81},{"run":8,"x":25,"acc":0.79}
],
"antiHIV_runs":[
{"run":1,"x":0,"acc":0.5},{"run":1,"x":3,"acc":0.6},{"run":1,"x":6,"acc":0.78},{"run":1,"x":9,"acc":0.8},{"run":1,"x":12,"acc":0.77},{"run":1,"x":15,"acc":0.82},{"run":1,"x":18,"acc":0.79},{"run":1,"x":21,"acc":0.8},{"run":1,"x":25,"acc":0.78},
{"run":2,"x":0,"acc":0.48},{"run":2,"x":3,"acc":0.42},{"run":2,"x":6,"acc":0.55},{"run":2,"x":9,"acc":0.76},{"run":2,"x":12,"acc":0.8},{"run":2,"x":15,"acc":0.77},{"run":2,"x":18,"acc":0.8},{"run":2,"x":21,"acc":0.83},{"run":2,"x":25,"acc":0.79},
{"run":3,"x":0,"acc":0.52},{"run":3,"x":3,"acc":0.5},{"run":3,"x":6,"acc":0.5},{"run":3,"x":9,"acc":0.5},{"run":3,"x":12,"acc":0.58},{"run":3,"x":15,"acc":0.72},{"run":3,"x":18,"acc":0.77},{"run":3,"x":21,"acc":0.76},{"run":3,"x":25,"acc":0.77},
{"run":4,"x":0,"acc":0.44},{"run":4,"x":3,"acc":0.55},{"run":4,"x":6,"acc":0.75},{"run":4,"x":9,"acc":0.72},{"run":4,"x":12,"acc":0.8},{"run":4,"x":15,"acc":0.78},{"run":4,"x":18,"acc":0.82},{"run":4,"x":21,"acc":0.8},{"run":4,"x":25,"acc":0.81},
{"run":5,"x":0,"acc":0.5},{"run":5,"x":3,"acc":0.48},{"run":5,"x":6,"acc":0.41},{"run":5,"x":9,"acc":0.6},{"run":5,"x":12,"acc":0.7},{"run":5,"x":15,"acc":0.76},{"run":5,"x":18,"acc":0.74},{"run":5,"x":21,"acc":0.78},{"run":5,"x":25,"acc":0.77},
{"run":6,"x":0,"acc":0.5},{"run":6,"x":3,"acc":0.5},{"run":6,"x":6,"acc":0.5},{"run":6,"x":9,"acc":0.5},{"run":6,"x":12,"acc":0.5},{"run":6,"x":15,"acc":0.5},{"run":6,"x":18,"acc":0.56},{"run":6,"x":21,"acc":0.62},{"run":6,"x":25,"acc":0.68},
{"run":7,"x":0,"acc":0.46},{"run":7,"x":3,"acc":0.7},{"run":7,"x":6,"acc":0.8},{"run":7,"x":9,"acc":0.78},{"run":7,"x":12,"acc":0.82},{"run":7,"x":15,"acc":0.8},{"run":7,"x":18,"acc":0.77},{"run":7,"x":21,"acc":0.81},{"run":7,"x":25,"acc":0.8},
{"run":8,"x":0,"acc":0.55},{"run":8,"x":3,"acc":0.5},{"run":8,"x":6,"acc":0.62},{"run":8,"x":9,"acc":0.7},{"run":8,"x":12,"acc":0.68},{"run":8,"x":15,"acc":0.74},{"run":8,"x":18,"acc":0.72},{"run":8,"x":21,"acc":0.77},{"run":8,"x":25,"acc":0.73}
],
"antiMRSA_runs":[
{"run":1,"x":0,"acc":0.5},{"run":1,"x":3,"acc":0.55},{"run":1,"x":6,"acc":0.95},{"run":1,"x":9,"acc":0.97},{"run":1,"x":12,"acc":0.96},{"run":1,"x":15,"acc":0.97},{"run":1,"x":18,"acc":0.95},{"run":1,"x":21,"acc":0.96},{"run":1,"x":25,"acc":0.97},
{"run":2,"x":0,"acc":0.48},{"run":2,"x":3,"acc":0.5},{"run":2,"x":6,"acc":0.8},{"run":2,"x":9,"acc":0.94},{"run":2,"x":12,"acc":0.96},{"run":2,"x":15,"acc":0.95},{"run":2,"x":18,"acc":0.97},{"run":2,"x":21,"acc":0.96},{"run":2,"x":25,"acc":0.96},
{"run":3,"x":0,"acc":0.5},{"run":3,"x":3,"acc":0.65},{"run":3,"x":6,"acc":0.98},{"run":3,"x":9,"acc":0.93},{"run":3,"x":12,"acc":0.95},{"run":3,"x":15,"acc":0.97},{"run":3,"x":18,"acc":0.96},{"run":3,"x":21,"acc":0.97},{"run":3,"x":25,"acc":0.95},
{"run":4,"x":0,"acc":0.45},{"run":4,"x":3,"acc":0.5},{"run":4,"x":6,"acc":0.55},{"run":4,"x":9,"acc":0.85},{"run":4,"x":12,"acc":0.93},{"run":4,"x":15,"acc":0.96},{"run":4,"x":18,"acc":0.95},{"run":4,"x":21,"acc":0.94},{"run":4,"x":25,"acc":0.96},
{"run":5,"x":0,"acc":0.52},{"run":5,"x":3,"acc":0.5},{"run":5,"x":6,"acc":0.5},{"run":5,"x":9,"acc":0.6},{"run":5,"x":12,"acc":0.8},{"run":5,"x":15,"acc":0.92},{"run":5,"x":18,"acc":0.94},{"run":5,"x":21,"acc":0.95},{"run":5,"x":25,"acc":0.93},
{"run":6,"x":0,"acc":0.5},{"run":6,"x":3,"acc":0.5},{"run":6,"x":6,"acc":0.5},{"run":6,"x":9,"acc":0.5},{"run":6,"x":12,"acc":0.55},{"run":6,"x":15,"acc":0.68},{"run":6,"x":18,"acc":0.85},{"run":6,"x":21,"acc":0.9},{"run":6,"x":25,"acc":0.92},
{"run":7,"x":0,"acc":0.47},{"run":7,"x":3,"acc":0.58},{"run":7,"x":6,"acc":0.9},{"run":7,"x":9,"acc":0.96},{"run":7,"x":12,"acc":0.94},{"run":7,"x":15,"acc":0.95},{"run":7,"x":18,"acc":0.97},{"run":7,"x":21,"acc":0.95},{"run":7,"x":25,"acc":0.96},
{"run":8,"x":0,"acc":0.5},{"run":8,"x":3,"acc":0.52},{"run":8,"x":6,"acc":0.62},{"run":8,"x":9,"acc":0.72},{"run":8,"x":12,"acc":0.9},{"run":8,"x":15,"acc":0.94},{"run":8,"x":18,"acc":0.92},{"run":8,"x":21,"acc":0.96},{"run":8,"x":25,"acc":0.94}
],
"antiparasital_runs":[
{"run":1,"x":0,"acc":0.5},{"run":1,"x":3,"acc":0.42},{"run":1,"x":6,"acc":0.55},{"run":1,"x":9,"acc":0.8},{"run":1,"x":12,"acc":0.85},{"run":1,"x":15,"acc":0.88},{"run":1,"x":18,"acc":0.86},{"run":1,"x":21,"acc":0.9},{"run":1,"x":25,"acc":0.88},
{"run":2,"x":0,"acc":0.55},{"run":2,"x":3,"acc":0.6},{"run":2,"x":6,"acc":0.7},{"run":2,"x":9,"acc":0.78},{"run":2,"x":12,"acc":0.82},{"run":2,"x":15,"acc":0.86},{"run":2,"x":18,"acc":0.9},{"run":2,"x":21,"acc":0.87},{"run":2,"x":25,"acc":0.89},
{"run":3,"x":0,"acc":0.45},{"run":3,"x":3,"acc":0.38},{"run":3,"x":6,"acc":0.52},{"run":3,"x":9,"acc":0.62},{"run":3,"x":12,"acc":0.75},{"run":3,"x":15,"acc":0.8},{"run":3,"x":18,"acc":0.84},{"run":3,"x":21,"acc":0.86},{"run":3,"x":25,"acc":0.85},
{"run":4,"x":0,"acc":0.5},{"run":4,"x":3,"acc":0.5},{"run":4,"x":6,"acc":0.5},{"run":4,"x":9,"acc":0.5},{"run":4,"x":12,"acc":0.5},{"run":4,"x":15,"acc":0.62},{"run":4,"x":18,"acc":0.75},{"run":4,"x":21,"acc":0.8},{"run":4,"x":25,"acc":0.86},
{"run":5,"x":0,"acc":0.6},{"run":5,"x":3,"acc":0.55},{"run":5,"x":6,"acc":0.65},{"run":5,"x":9,"acc":0.85},{"run":5,"x":12,"acc":0.88},{"run":5,"x":15,"acc":0.86},{"run":5,"x":18,"acc":0.9},{"run":5,"x":21,"acc":0.91},{"run":5,"x":25,"acc":0.88},
{"run":6,"x":0,"acc":0.48},{"run":6,"x":3,"acc":0.5},{"run":6,"x":6,"acc":0.52},{"run":6,"x":9,"acc":0.58},{"run":6,"x":12,"acc":0.7},{"run":6,"x":15,"acc":0.68},{"run":6,"x":18,"acc":0.62},{"run":6,"x":21,"acc":0.58},{"run":6,"x":25,"acc":0.72},
{"run":7,"x":0,"acc":0.4},{"run":7,"x":3,"acc":0.5},{"run":7,"x":6,"acc":0.6},{"run":7,"x":9,"acc":0.72},{"run":7,"x":12,"acc":0.8},{"run":7,"x":15,"acc":0.84},{"run":7,"x":18,"acc":0.82},{"run":7,"x":21,"acc":0.88},{"run":7,"x":25,"acc":0.9},
{"run":8,"x":0,"acc":0.52},{"run":8,"x":3,"acc":0.5},{"run":8,"x":6,"acc":0.5},{"run":8,"x":9,"acc":0.55},{"run":8,"x":12,"acc":0.62},{"run":8,"x":15,"acc":0.72},{"run":8,"x":18,"acc":0.8},{"run":8,"x":21,"acc":0.78},{"run":8,"x":25,"acc":0.84}
],
"antiviral_runs":[
{"run":1,"x":0,"acc":0.5},{"run":1,"x":3,"acc":0.55},{"run":1,"x":6,"acc":0.82},{"run":1,"x":9,"acc":0.84},{"run":1,"x":12,"acc":0.8},{"run":1,"x":15,"acc":0.85},{"run":1,"x":18,"acc":0.83},{"run":1,"x":21,"acc":0.84},{"run":1,"x":25,"acc":0.85},
{"run":2,"x":0,"acc":0.48},{"run":2,"x":3,"acc":0.4},{"run":2,"x":6,"acc":0.6},{"run":2,"x":9,"acc":0.78},{"run":2,"x":12,"acc":0.83},{"run":2,"x":15,"acc":0.8},{"run":2,"x":18,"acc":0.84},{"run":2,"x":21,"acc":0.82},{"run":2,"x":25,"acc":0.83},
{"run":3,"x":0,"acc":0.52},{"run":3,"x":3,"acc":0.5},{"run":3,"x":6,"acc":0.5},{"run":3,"x":9,"acc":0.55},{"run":3,"x":12,"acc":0.72},{"run":3,"x":15,"acc":0.8},{"run":3,"x":18,"acc":0.78},{"run":3,"x":21,"acc":0.85},{"run":3,"x":25,"acc":0.8},
{"run":4,"x":0,"acc":0.45},{"run":4,"x":3,"acc":0.7},{"run":4,"x":6,"acc":0.8},{"run":4,"x":9,"acc":0.78},{"run":4,"x":12,"acc":0.82},{"run":4,"x":15,"acc":0.84},{"run":4,"x":18,"acc":0.8},{"run":4,"x":21,"acc":0.83},{"run":4,"x":25,"acc":0.84},
{"run":5,"x":0,"acc":0.5},{"run":5,"x":3,"acc":0.5},{"run":5,"x":6,"acc":0.5},{"run":5,"x":9,"acc":0.5},{"run":5,"x":12,"acc":0.5},{"run":5,"x":15,"acc":0.52},{"run":5,"x":18,"acc":0.65},{"run":5,"x":21,"acc":0.72},{"run":5,"x":25,"acc":0.78},
{"run":6,"x":0,"acc":0.44},{"run":6,"x":3,"acc":0.48},{"run":6,"x":6,"acc":0.65},{"run":6,"x":9,"acc":0.72},{"run":6,"x":12,"acc":0.7},{"run":6,"x":15,"acc":0.76},{"run":6,"x":18,"acc":0.8},{"run":6,"x":21,"acc":0.78},{"run":6,"x":25,"acc":0.82},
{"run":7,"x":0,"acc":0.5},{"run":7,"x":3,"acc":0.52},{"run":7,"x":6,"acc":0.5},{"run":7,"x":9,"acc":0.58},{"run":7,"x":12,"acc":0.62},{"run":7,"x":15,"acc":0.7},{"run":7,"x":18,"acc":0.74},{"run":7,"x":21,"acc":0.8},{"run":7,"x":25,"acc":0.76},
{"run":8,"x":0,"acc":0.55},{"run":8,"x":3,"acc":0.6},{"run":8,"x":6,"acc":0.75},{"run":8,"x":9,"acc":0.82},{"run":8,"x":12,"acc":0.85},{"run":8,"x":15,"acc":0.82},{"run":8,"x":18,"acc":0.84},{"run":8,"x":21,"acc":0.86},{"run":8,"x":25,"acc":0.83}
],
"hemolytic_runs":[
{"run":1,"x":0,"acc":0.5},{"run":1,"x":3,"acc":0.55},{"run":1,"x":6,"acc":0.7},{"run":1,"x":9,"acc":0.8},{"run":1,"x":12,"acc":0.83},{"run":1,"x":15,"acc":0.85},{"run":1,"x":18,"acc":0.84},{"run":1,"x":21,"acc":0.86},{"run":1,"x":25,"acc":0.85},
{"run":2,"x":0,"acc":0.45},{"run":2,"x":3,"acc":0.5},{"run":2,"x":6,"acc":0.52},{"run":2,"x":9,"acc":0.35},{"run":2,"x":12,"acc":0.62},{"run":2,"x":15,"acc":0.78},{"run":2,"x":18,"acc":0.82},{"run":2,"x":21,"acc":0.84},{"run":2,"x":25,"acc":0.83},
{"run":3,"x":0,"acc":0.52},{"run":3,"x":3,"acc":0.5},{"run":3,"x":6,"acc":0.62},{"run":3,"x":9,"acc":0.76},{"run":3,"x":12,"acc":0.8},{"run":3,"x":15,"acc":0.82},{"run":3,"x":18,"acc":0.85},{"run":3,"x":21,"acc":0.84},{"run":3,"x":25,"acc":0.86},
{"run":4,"x":0,"acc":0.48},{"run":4,"x":3,"acc":0.42},{"run":4,"x":6,"acc":0.5},{"run":4,"x":9,"acc":0.55},{"run":4,"x":12,"acc":0.7},{"run":4,"x":15,"acc":0.76},{"run":4,"x":18,"acc":0.8},{"run":4,"x":21,"acc":0.82},{"run":4,"x":25,"acc":0.84},
{"run":5,"x":0,"acc":0.5},{"run":5,"x":3,"acc":0.5},{"run":5,"x":6,"acc":0.5},{"run":5,"x":9,"acc":0.5},{"run":5,"x":12,"acc":0.52},{"run":5,"x":15,"acc":0.6},{"run":5,"x":18,"acc":0.72},{"run":5,"x":21,"acc":0.78},{"run":5,"x":25,"acc":0.8},
{"run":6,"x":0,"acc":0.46},{"run":6,"x":3,"acc":0.58},{"run":6,"x":6,"acc":0.78},{"run":6,"x":9,"acc":0.82},{"run":6,"x":12,"acc":0.8},{"run":6,"x":15,"acc":0.83},{"run":6,"x":18,"acc":0.82},{"run":6,"x":21,"acc":0.85},{"run":6,"x":25,"acc":0.84},
{"run":7,"x":0,"acc":0.5},{"run":7,"x":3,"acc":0.48},{"run":7,"x":6,"acc":0.55},{"run":7,"x":9,"acc":0.62},{"run":7,"x":12,"acc":0.6},{"run":7,"x":15,"acc":0.68},{"run":7,"x":18,"acc":0.74},{"run":7,"x":21,"acc":0.76},{"run":7,"x":25,"acc":0.82},
{"run":8,"x":0,"acc":0.53},{"run":8,"x":3,"acc":0.65},{"run":8,"x":6,"acc":0.8},{"run":8,"x":9,"acc":0.78},{"run":8,"x":12,"acc":0.84},{"run":8,"x":15,"acc":0.8},{"run":8,"x":18,"acc":0.83},{"run":8,"x":21,"acc":0.82},{"run":8,"x":25,"acc":0.85}
],
"soluble_runs":[
{"run":1,"x":0,"acc":0.5},{"run":1,"x":3,"acc":0.51},{"run":1,"x":6,"acc":0.505},{"run":1,"x":9,"acc":0.515},{"run":1,"x":12,"acc":0.522},{"run":1,"x":15,"acc":0.51},{"run":1,"x":18,"acc":0.525},{"run":1,"x":21,"acc":0.515},{"run":1,"x":25,"acc":0.508},
{"run":2,"x":0,"acc":0.5},{"run":2,"x":3,"acc":0.494},{"run":2,"x":6,"acc":0.488},{"run":2,"x":9,"acc":0.495},{"run":2,"x":12,"acc":0.485},{"run":2,"x":15,"acc":0.49},{"run":2,"x":18,"acc":0.482},{"run":2,"x":21,"acc":0.478},{"run":2,"x":25,"acc":0.486},
{"run":3,"x":0,"acc":0.5},{"run":3,"x":3,"acc":0.505},{"run":3,"x":6,"acc":0.498},{"run":3,"x":9,"acc":0.51},{"run":3,"x":12,"acc":0.5},{"run":3,"x":15,"acc":0.518},{"run":3,"x":18,"acc":0.508},{"run":3,"x":21,"acc":0.528},{"run":3,"x":25,"acc":0.515},
{"run":4,"x":0,"acc":0.5},{"run":4,"x":3,"acc":0.496},{"run":4,"x":6,"acc":0.502},{"run":4,"x":9,"acc":0.49},{"run":4,"x":12,"acc":0.497},{"run":4,"x":15,"acc":0.48},{"run":4,"x":18,"acc":0.492},{"run":4,"x":21,"acc":0.488},{"run":4,"x":25,"acc":0.48},
{"run":5,"x":0,"acc":0.5},{"run":5,"x":3,"acc":0.512},{"run":5,"x":6,"acc":0.5},{"run":5,"x":9,"acc":0.505},{"run":5,"x":12,"acc":0.529},{"run":5,"x":15,"acc":0.512},{"run":5,"x":18,"acc":0.505},{"run":5,"x":21,"acc":0.512},{"run":5,"x":25,"acc":0.52},
{"run":6,"x":0,"acc":0.5},{"run":6,"x":3,"acc":0.492},{"run":6,"x":6,"acc":0.485},{"run":6,"x":9,"acc":0.5},{"run":6,"x":12,"acc":0.49},{"run":6,"x":15,"acc":0.5},{"run":6,"x":18,"acc":0.496},{"run":6,"x":21,"acc":0.505},{"run":6,"x":25,"acc":0.494},
{"run":7,"x":0,"acc":0.5},{"run":7,"x":3,"acc":0.503},{"run":7,"x":6,"acc":0.495},{"run":7,"x":9,"acc":0.485},{"run":7,"x":12,"acc":0.505},{"run":7,"x":15,"acc":0.495},{"run":7,"x":18,"acc":0.515},{"run":7,"x":21,"acc":0.495},{"run":7,"x":25,"acc":0.502},
{"run":8,"x":0,"acc":0.5},{"run":8,"x":3,"acc":0.498},{"run":8,"x":6,"acc":0.508},{"run":8,"x":9,"acc":0.502},{"run":8,"x":12,"acc":0.478},{"run":8,"x":15,"acc":0.505},{"run":8,"x":18,"acc":0.488},{"run":8,"x":21,"acc":0.476},{"run":8,"x":25,"acc":0.498}
],
"SHP2_runs":[
{"run":1,"x":0,"acc":0.5},{"run":1,"x":3,"acc":0.6},{"run":1,"x":6,"acc":0.55},{"run":1,"x":9,"acc":0.62},{"run":1,"x":12,"acc":0.58},{"run":1,"x":15,"acc":0.6},{"run":1,"x":18,"acc":0.55},{"run":1,"x":21,"acc":0.68},{"run":1,"x":25,"acc":0.58},
{"run":2,"x":0,"acc":0.5},{"run":2,"x":3,"acc":0.42},{"run":2,"x":6,"acc":0.48},{"run":2,"x":9,"acc":0.4},{"run":2,"x":12,"acc":0.45},{"run":2,"x":15,"acc":0.42},{"run":2,"x":18,"acc":0.48},{"run":2,"x":21,"acc":0.44},{"run":2,"x":25,"acc":0.46},
{"run":3,"x":0,"acc":0.52},{"run":3,"x":3,"acc":0.55},{"run":3,"x":6,"acc":0.6},{"run":3,"x":9,"acc":0.52},{"run":3,"x":12,"acc":0.56},{"run":3,"x":15,"acc":0.62},{"run":3,"x":18,"acc":0.58},{"run":3,"x":21,"acc":0.52},{"run":3,"x":25,"acc":0.6},
{"run":4,"x":0,"acc":0.48},{"run":4,"x":3,"acc":0.45},{"run":4,"x":6,"acc":0.4},{"run":4,"x":9,"acc":0.48},{"run":4,"x":12,"acc":0.34},{"run":4,"x":15,"acc":0.46},{"run":4,"x":18,"acc":0.44},{"run":4,"x":21,"acc":0.4},{"run":4,"x":25,"acc":0.48},
{"run":5,"x":0,"acc":0.55},{"run":5,"x":3,"acc":0.5},{"run":5,"x":6,"acc":0.52},{"run":5,"x":9,"acc":0.58},{"run":5,"x":12,"acc":0.5},{"run":5,"x":15,"acc":0.55},{"run":5,"x":18,"acc":0.6},{"run":5,"x":21,"acc":0.56},{"run":5,"x":25,"acc":0.52},
{"run":6,"x":0,"acc":0.47},{"run":6,"x":3,"acc":0.5},{"run":6,"x":6,"acc":0.46},{"run":6,"x":9,"acc":0.44},{"run":6,"x":12,"acc":0.5},{"run":6,"x":15,"acc":0.48},{"run":6,"x":18,"acc":0.42},{"run":6,"x":21,"acc":0.5},{"run":6,"x":25,"acc":0.44},
{"run":7,"x":0,"acc":0.5},{"run":7,"x":3,"acc":0.58},{"run":7,"x":6,"acc":0.5},{"run":7,"x":9,"acc":0.55},{"run":7,"x":12,"acc":0.62},{"run":7,"x":15,"acc":0.52},{"run":7,"x":18,"acc":0.56},{"run":7,"x":21,"acc":0.6},{"run":7,"x":25,"acc":0.55},
{"run":8,"x":0,"acc":0.5},{"run":8,"x":3,"acc":0.44},{"run":8,"x":6,"acc":0.52},{"run":8,"x":9,"acc":0.46},{"run":8,"x":12,"acc":0.42},{"run":8,"x":15,"acc":0.5},{"run":8,"x":18,"acc":0.46},{"run":8,"x":21,"acc":0.48},{"run":8,"x":25,"acc":0.42}
],
"TULA2_runs":[
{"run":1,"x":0,"acc":0.5},{"run":1,"x":3,"acc":0.6},{"run":1,"x":6,"acc":0.55},{"run":1,"x":9,"acc":0.65},{"run":1,"x":12,"acc":0.58},{"run":1,"x":15,"acc":0.62},{"run":1,"x":18,"acc":0.7},{"run":1,"x":21,"acc":0.6},{"run":1,"x":25,"acc":0.58},
{"run":2,"x":0,"acc":0.5},{"run":2,"x":3,"acc":0.42},{"run":2,"x":6,"acc":0.48},{"run":2,"x":9,"acc":0.38},{"run":2,"x":12,"acc":0.45},{"run":2,"x":15,"acc":0.4},{"run":2,"x":18,"acc":0.48},{"run":2,"x":21,"acc":0.36},{"run":2,"x":25,"acc":0.44},
{"run":3,"x":0,"acc":0.52},{"run":3,"x":3,"acc":0.55},{"run":3,"x":6,"acc":0.62},{"run":3,"x":9,"acc":0.52},{"run":3,"x":12,"acc":0.6},{"run":3,"x":15,"acc":0.55},{"run":3,"x":18,"acc":0.58},{"run":3,"x":21,"acc":0.65},{"run":3,"x":25,"acc":0.55},
{"run":4,"x":0,"acc":0.48},{"run":4,"x":3,"acc":0.45},{"run":4,"x":6,"acc":0.4},{"run":4,"x":9,"acc":0.5},{"run":4,"x":12,"acc":0.42},{"run":4,"x":15,"acc":0.47},{"run":4,"x":18,"acc":0.4},{"run":4,"x":21,"acc":0.46},{"run":4,"x":25,"acc":0.48},
{"run":5,"x":0,"acc":0.55},{"run":5,"x":3,"acc":0.5},{"run":5,"x":6,"acc":0.58},{"run":5,"x":9,"acc":0.55},{"run":5,"x":12,"acc":0.5},{"run":5,"x":15,"acc":0.6},{"run":5,"x":18,"acc":0.52},{"run":5,"x":21,"acc":0.56},{"run":5,"x":25,"acc":0.62},
{"run":6,"x":0,"acc":0.47},{"run":6,"x":3,"acc":0.52},{"run":6,"x":6,"acc":0.45},{"run":6,"x":9,"acc":0.42},{"run":6,"x":12,"acc":0.5},{"run":6,"x":15,"acc":0.44},{"run":6,"x":18,"acc":0.45},{"run":6,"x":21,"acc":0.5},{"run":6,"x":25,"acc":0.42},
{"run":7,"x":0,"acc":0.5},{"run":7,"x":3,"acc":0.58},{"run":7,"x":6,"acc":0.5},{"run":7,"x":9,"acc":0.6},{"run":7,"x":12,"acc":0.65},{"run":7,"x":15,"acc":0.52},{"run":7,"x":18,"acc":0.62},{"run":7,"x":21,"acc":0.55},{"run":7,"x":25,"acc":0.58},
{"run":8,"x":0,"acc":0.5},{"run":8,"x":3,"acc":0.44},{"run":8,"x":6,"acc":0.52},{"run":8,"x":9,"acc":0.46},{"run":8,"x":12,"acc":0.4},{"run":8,"x":15,"acc":0.52},{"run":8,"x":18,"acc":0.44},{"run":8,"x":21,"acc":0.42},{"run":8,"x":25,"acc":0.47}
],
"human_runs":[
{"run":1,"x":0,"acc":0.32},{"run":1,"x":3,"acc":0.5},{"run":1,"x":6,"acc":0.8},{"run":1,"x":9,"acc":0.85},{"run":1,"x":12,"acc":0.84},{"run":1,"x":15,"acc":0.86},{"run":1,"x":18,"acc":0.85},{"run":1,"x":21,"acc":0.86},{"run":1,"x":25,"acc":0.85},
{"run":2,"x":0,"acc":0.5},{"run":2,"x":3,"acc":0.5},{"run":2,"x":6,"acc":0.5},{"run":2,"x":9,"acc":0.5},{"run":2,"x":12,"acc":0.5},{"run":2,"x":15,"acc":0.68},{"run":2,"x":18,"acc":0.8},{"run":2,"x":21,"acc":0.84},{"run":2,"x":25,"acc":0.83},
{"run":3,"x":0,"acc":0.35},{"run":3,"x":3,"acc":0.58},{"run":3,"x":6,"acc":0.84},{"run":3,"x":9,"acc":0.82},{"run":3,"x":12,"acc":0.86},{"run":3,"x":15,"acc":0.84},{"run":3,"x":18,"acc":0.86},{"run":3,"x":21,"acc":0.85},{"run":3,"x":25,"acc":0.86},
{"run":4,"x":0,"acc":0.5},{"run":4,"x":3,"acc":0.45},{"run":4,"x":6,"acc":0.65},{"run":4,"x":9,"acc":0.78},{"run":4,"x":12,"acc":0.82},{"run":4,"x":15,"acc":0.85},{"run":4,"x":18,"acc":0.84},{"run":4,"x":21,"acc":0.86},{"run":4,"x":25,"acc":0.84},
{"run":5,"x":0,"acc":0.4},{"run":5,"x":3,"acc":0.31},{"run":5,"x":6,"acc":0.5},{"run":5,"x":9,"acc":0.6},{"run":5,"x":12,"acc":0.72},{"run":5,"x":15,"acc":0.8},{"run":5,"x":18,"acc":0.82},{"run":5,"x":21,"acc":0.84},{"run":5,"x":25,"acc":0.85},
{"run":6,"x":0,"acc":0.5},{"run":6,"x":3,"acc":0.7},{"run":6,"x":6,"acc":0.85},{"run":6,"x":9,"acc":0.84},{"run":6,"x":12,"acc":0.86},{"run":6,"x":15,"acc":0.85},{"run":6,"x":18,"acc":0.84},{"run":6,"x":21,"acc":0.86},{"run":6,"x":25,"acc":0.86},
{"run":7,"x":0,"acc":0.45},{"run":7,"x":3,"acc":0.5},{"run":7,"x":6,"acc":0.55},{"run":7,"x":9,"acc":0.62},{"run":7,"x":12,"acc":0.6},{"run":7,"x":15,"acc":0.7},{"run":7,"x":18,"acc":0.76},{"run":7,"x":21,"acc":0.8},{"run":7,"x":25,"acc":0.78},
{"run":8,"x":0,"acc":0.5},{"run":8,"x":3,"acc":0.62},{"run":8,"x":6,"acc":0.78},{"run":8,"x":9,"acc":0.85},{"run":8,"x":12,"acc":0.83},{"run":8,"x":15,"acc":0.86},{"run":8,"x":18,"acc":0.85},{"run":8,"x":21,"acc":0.84},{"run":8,"x":25,"acc":0.86}
]
},
"concat":[
{"title":"antibacterial","width":162,"height":167,
"encoding":{"x":{"field":"x","type":"quantitative","scale":{"domain":[0,25],"nice":false},"axis":{"values":[0,12,25],"labels":false,"title":null}},"y":{"field":"acc","type":"quantitative","scale":{"domain":[0.417,0.836],"nice":false,"zero":false},"axis":{"values":[0.6,0.8],"format":".1f","title":"Accuracy"}}},
"layer":[
{"data":{"name":"antibacterial_runs"},"mark":{"type":"line","stroke":"#ff7f0e","strokeWidth":0.9,"opacity":0.3,"clip":true},"encoding":{"detail":{"field":"run","type":"nominal"}}},
{"data":{"name":"antibacterial"},"mark":{"type":"line","clip":true},"encoding":{"color":{"field":"series","type":"nominal","scale":{"domain":["Baseline","Uncertainty","ML+Uncertainty","Random","ML+Random"],"range":["#808080","#1f77b4","#ff7f0e","#2ca02c","#d62728"]},"legend":{"title":null}},"strokeDash":{"field":"series","type":"nominal","scale":{"domain":["Baseline","Uncertainty","ML+Uncertainty","Random","ML+Random"],"range":[[1,0],[1,0],[1,0],[5.5,2.4],[5.5,2.4]]},"legend":{"title":null}},"strokeWidth":{"field":"series","type":"nominal","scale":{"domain":["Baseline","Uncertainty","ML+Uncertainty","Random","ML+Random"],"range":[1.5,1.5,2.6,1.5,1.5]},"legend":{"title":null}}}}
]},
{"title":"anticancer","width":162,"height":167,
"encoding":{"x":{"field":"x","type":"quantitative","scale":{"domain":[0,25],"nice":false},"axis":{"values":[0,12,25],"labels":false,"title":null}},"y":{"field":"acc","type":"quantitative","scale":{"domain":[0.366,0.905],"nice":false,"zero":false},"axis":{"values":[0.4,0.6,0.8],"format":".1f","title":null}}},
"layer":[
{"data":{"name":"anticancer_runs"},"mark":{"type":"line","stroke":"#ff7f0e","strokeWidth":0.9,"opacity":0.3,"clip":true},"encoding":{"detail":{"field":"run","type":"nominal"}}},
{"data":{"name":"anticancer"},"mark":{"type":"line","clip":true},"encoding":{"color":{"field":"series","type":"nominal","scale":{"domain":["Baseline","Uncertainty","ML+Uncertainty","Random","ML+Random"],"range":["#808080","#1f77b4","#ff7f0e","#2ca02c","#d62728"]},"legend":{"title":null}},"strokeDash":{"field":"series","type":"nominal","scale":{"domain":["Baseline","Uncertainty","ML+Uncertainty","Random","ML+Random"],"range":[[1,0],[1,0],[1,0],[5.5,2.4],[5.5,2.4]]},"legend":{"title":null}},"strokeWidth":{"field":"series","type":"nominal","scale":{"domain":["Baseline","Uncertainty","ML+Uncertainty","Random","ML+Random"],"range":[1.5,1.5,2.6,1.5,1.5]},"legend":{"title":null}}}}
]},
{"title":"antifungal","width":162,"height":167,
"encoding":{"x":{"field":"x","type":"quantitative","scale":{"domain":[0,25],"nice":false},"axis":{"values":[0,12,25],"labels":false,"title":null}},"y":{"field":"acc","type":"quantitative","scale":{"domain":[0.355,0.858],"nice":false,"zero":false},"axis":{"values":[0.4,0.6,0.8],"format":".1f","title":null}}},
"layer":[
{"data":{"name":"antifungal_runs"},"mark":{"type":"line","stroke":"#ff7f0e","strokeWidth":0.9,"opacity":0.3,"clip":true},"encoding":{"detail":{"field":"run","type":"nominal"}}},
{"data":{"name":"antifungal"},"mark":{"type":"line","clip":true},"encoding":{"color":{"field":"series","type":"nominal","scale":{"domain":["Baseline","Uncertainty","ML+Uncertainty","Random","ML+Random"],"range":["#808080","#1f77b4","#ff7f0e","#2ca02c","#d62728"]},"legend":{"title":null}},"strokeDash":{"field":"series","type":"nominal","scale":{"domain":["Baseline","Uncertainty","ML+Uncertainty","Random","ML+Random"],"range":[[1,0],[1,0],[1,0],[5.5,2.4],[5.5,2.4]]},"legend":{"title":null}},"strokeWidth":{"field":"series","type":"nominal","scale":{"domain":["Baseline","Uncertainty","ML+Uncertainty","Random","ML+Random"],"range":[1.5,1.5,2.6,1.5,1.5]},"legend":{"title":null}}}}
]},
{"title":"anti-HIV","width":162,"height":167,
"encoding":{"x":{"field":"x","type":"quantitative","scale":{"domain":[0,25],"nice":false},"axis":{"values":[0,12,25],"labels":false,"title":null}},"y":{"field":"acc","type":"quantitative","scale":{"domain":[0.386,0.862],"nice":false,"zero":false},"axis":{"values":[0.4,0.6,0.8],"format":".1f","title":null}}},
"layer":[
{"data":{"name":"antiHIV_runs"},"mark":{"type":"line","stroke":"#ff7f0e","strokeWidth":0.9,"opacity":0.3,"clip":true},"encoding":{"detail":{"field":"run","type":"nominal"}}},
{"data":{"name":"antiHIV"},"mark":{"type":"line","clip":true},"encoding":{"color":{"field":"series","type":"nominal","scale":{"domain":["Baseline","Uncertainty","ML+Uncertainty","Random","ML+Random"],"range":["#808080","#1f77b4","#ff7f0e","#2ca02c","#d62728"]},"legend":{"title":null}},"strokeDash":{"field":"series","type":"nominal","scale":{"domain":["Baseline","Uncertainty","ML+Uncertainty","Random","ML+Random"],"range":[[1,0],[1,0],[1,0],[5.5,2.4],[5.5,2.4]]},"legend":{"title":null}},"strokeWidth":{"field":"series","type":"nominal","scale":{"domain":["Baseline","Uncertainty","ML+Uncertainty","Random","ML+Random"],"range":[1.5,1.5,2.6,1.5,1.5]},"legend":{"title":null}}}}
]},
{"title":"anti-MRSA","width":162,"height":167,
"encoding":{"x":{"field":"x","type":"quantitative","scale":{"domain":[0,25],"nice":false},"axis":{"values":[0,12,25],"labels":false,"title":null}},"y":{"field":"acc","type":"quantitative","scale":{"domain":[0.4,1.032],"nice":false,"zero":false},"axis":{"values":[0.6,0.8,1.0],"format":".1f","title":"Accuracy"}}},
"layer":[
{"data":{"name":"antiMRSA_runs"},"mark":{"type":"line","stroke":"#ff7f0e","strokeWidth":0.9,"opacity":0.3,"clip":true},"encoding":{"detail":{"field":"run","type":"nominal"}}},
{"data":{"name":"antiMRSA"},"mark":{"type":"line","clip":true},"encoding":{"color":{"field":"series","type":"nominal","scale":{"domain":["Baseline","Uncertainty","ML+Uncertainty","Random","ML+Random"],"range":["#808080","#1f77b4","#ff7f0e","#2ca02c","#d62728"]},"legend":{"title":null}},"strokeDash":{"field":"series","type":"nominal","scale":{"domain":["Baseline","Uncertainty","ML+Uncertainty","Random","ML+Random"],"range":[[1,0],[1,0],[1,0],[5.5,2.4],[5.5,2.4]]},"legend":{"title":null}},"strokeWidth":{"field":"series","type":"nominal","scale":{"domain":["Baseline","Uncertainty","ML+Uncertainty","Random","ML+Random"],"range":[1.5,1.5,2.6,1.5,1.5]},"legend":{"title":null}}}}
]},
{"title":"antiparasital","width":162,"height":167,
"encoding":{"x":{"field":"x","type":"quantitative","scale":{"domain":[0,25],"nice":false},"axis":{"values":[0,12,25],"labels":false,"title":null}},"y":{"field":"acc","type":"quantitative","scale":{"domain":[0.318,0.966],"nice":false,"zero":false},"axis":{"values":[0.4,0.6,0.8],"format":".1f","title":null}}},
"layer":[
{"data":{"name":"antiparasital_runs"},"mark":{"type":"line","stroke":"#ff7f0e","strokeWidth":0.9,"opacity":0.3,"clip":true},"encoding":{"detail":{"field":"run","type":"nominal"}}},
{"data":{"name":"antiparasital"},"mark":{"type":"line","clip":true},"encoding":{"color":{"field":"series","type":"nominal","scale":{"domain":["Baseline","Uncertainty","ML+Uncertainty","Random","ML+Random"],"range":["#808080","#1f77b4","#ff7f0e","#2ca02c","#d62728"]},"legend":{"title":null}},"strokeDash":{"field":"series","type":"nominal","scale":{"domain":["Baseline","Uncertainty","ML+Uncertainty","Random","ML+Random"],"range":[[1,0],[1,0],[1,0],[5.5,2.4],[5.5,2.4]]},"legend":{"title":null}},"strokeWidth":{"field":"series","type":"nominal","scale":{"domain":["Baseline","Uncertainty","ML+Uncertainty","Random","ML+Random"],"range":[1.5,1.5,2.6,1.5,1.5]},"legend":{"title":null}}}}
]},
{"title":"antiviral","width":162,"height":167,
"encoding":{"x":{"field":"x","type":"quantitative","scale":{"domain":[0,25],"nice":false},"axis":{"values":[0,12,25],"labels":false,"title":null}},"y":{"field":"acc","type":"quantitative","scale":{"domain":[0.357,0.893],"nice":false,"zero":false},"axis":{"values":[0.4,0.6,0.8],"format":".1f","title":null}}},
"layer":[
{"data":{"name":"antiviral_runs"},"mark":{"type":"line","stroke":"#ff7f0e","strokeWidth":0.9,"opacity":0.3,"clip":true},"encoding":{"detail":{"field":"run","type":"nominal"}}},
{"data":{"name":"antiviral"},"mark":{"type":"line","clip":true},"encoding":{"color":{"field":"series","type":"nominal","scale":{"domain":["Baseline","Uncertainty","ML+Uncertainty","Random","ML+Random"],"range":["#808080","#1f77b4","#ff7f0e","#2ca02c","#d62728"]},"legend":{"title":null}},"strokeDash":{"field":"series","type":"nominal","scale":{"domain":["Baseline","Uncertainty","ML+Uncertainty","Random","ML+Random"],"range":[[1,0],[1,0],[1,0],[5.5,2.4],[5.5,2.4]]},"legend":{"title":null}},"strokeWidth":{"field":"series","type":"nominal","scale":{"domain":["Baseline","Uncertainty","ML+Uncertainty","Random","ML+Random"],"range":[1.5,1.5,2.6,1.5,1.5]},"legend":{"title":null}}}}
]},
{"title":"hemolytic","width":162,"height":167,
"encoding":{"x":{"field":"x","type":"quantitative","scale":{"domain":[0,25],"nice":false},"axis":{"values":[0,12,25],"labels":false,"title":null}},"y":{"field":"acc","type":"quantitative","scale":{"domain":[0.304,0.943],"nice":false,"zero":false},"axis":{"values":[0.4,0.6,0.8],"format":".1f","title":null}}},
"layer":[
{"data":{"name":"hemolytic_runs"},"mark":{"type":"line","stroke":"#ff7f0e","strokeWidth":0.9,"opacity":0.3,"clip":true},"encoding":{"detail":{"field":"run","type":"nominal"}}},
{"data":{"name":"hemolytic"},"mark":{"type":"line","clip":true},"encoding":{"color":{"field":"series","type":"nominal","scale":{"domain":["Baseline","Uncertainty","ML+Uncertainty","Random","ML+Random"],"range":["#808080","#1f77b4","#ff7f0e","#2ca02c","#d62728"]},"legend":{"title":null}},"strokeDash":{"field":"series","type":"nominal","scale":{"domain":["Baseline","Uncertainty","ML+Uncertainty","Random","ML+Random"],"range":[[1,0],[1,0],[1,0],[5.5,2.4],[5.5,2.4]]},"legend":{"title":null}},"strokeWidth":{"field":"series","type":"nominal","scale":{"domain":["Baseline","Uncertainty","ML+Uncertainty","Random","ML+Random"],"range":[1.5,1.5,2.6,1.5,1.5]},"legend":{"title":null}}}}
]},
{"title":"soluble","width":162,"height":167,
"encoding":{"x":{"field":"x","type":"quantitative","scale":{"domain":[0,25],"nice":false},"axis":{"values":[0,12,25],"format":"d","title":"Given Examples"}},"y":{"field":"acc","type":"quantitative","scale":{"domain":[0.4723,0.5368],"nice":false,"zero":false},"axis":{"values":[0.48,0.5,0.52],"format":".2f","title":"Accuracy"}}},
"layer":[
{"data":{"name":"soluble_runs"},"mark":{"type":"line","stroke":"#ff7f0e","strokeWidth":0.9,"opacity":0.3,"clip":true},"encoding":{"detail":{"field":"run","type":"nominal"}}},
{"data":{"name":"soluble"},"mark":{"type":"line","clip":true},"encoding":{"color":{"field":"series","type":"nominal","scale":{"domain":["Baseline","Uncertainty","ML+Uncertainty","Random","ML+Random"],"range":["#808080","#1f77b4","#ff7f0e","#2ca02c","#d62728"]},"legend":{"title":null}},"strokeDash":{"field":"series","type":"nominal","scale":{"domain":["Baseline","Uncertainty","ML+Uncertainty","Random","ML+Random"],"range":[[1,0],[1,0],[1,0],[5.5,2.4],[5.5,2.4]]},"legend":{"title":null}},"strokeWidth":{"field":"series","type":"nominal","scale":{"domain":["Baseline","Uncertainty","ML+Uncertainty","Random","ML+Random"],"range":[1.5,1.5,2.6,1.5,1.5]},"legend":{"title":null}}}}
]},
{"title":"SHP-2","width":162,"height":167,
"encoding":{"x":{"field":"x","type":"quantitative","scale":{"domain":[0,25],"nice":false},"axis":{"values":[0,12,25],"format":"d","title":"Given Examples"}},"y":{"field":"acc","type":"quantitative","scale":{"domain":[0.314,0.754],"nice":false,"zero":false},"axis":{"values":[0.4,0.6],"format":".1f","title":null}}},
"layer":[
{"data":{"name":"SHP2_runs"},"mark":{"type":"line","stroke":"#ff7f0e","strokeWidth":0.9,"opacity":0.3,"clip":true},"encoding":{"detail":{"field":"run","type":"nominal"}}},
{"data":{"name":"SHP2"},"mark":{"type":"line","clip":true},"encoding":{"color":{"field":"series","type":"nominal","scale":{"domain":["Baseline","Uncertainty","ML+Uncertainty","Random","ML+Random"],"range":["#808080","#1f77b4","#ff7f0e","#2ca02c","#d62728"]},"legend":{"title":null}},"strokeDash":{"field":"series","type":"nominal","scale":{"domain":["Baseline","Uncertainty","ML+Uncertainty","Random","ML+Random"],"range":[[1,0],[1,0],[1,0],[5.5,2.4],[5.5,2.4]]},"legend":{"title":null}},"strokeWidth":{"field":"series","type":"nominal","scale":{"domain":["Baseline","Uncertainty","ML+Uncertainty","Random","ML+Random"],"range":[1.5,1.5,2.6,1.5,1.5]},"legend":{"title":null}}}}
]},
{"title":"TULA-2","width":162,"height":167,
"encoding":{"x":{"field":"x","type":"quantitative","scale":{"domain":[0,25],"nice":false},"axis":{"values":[0,12,25],"format":"d","title":"Given Examples"}},"y":{"field":"acc","type":"quantitative","scale":{"domain":[0.337,0.723],"nice":false,"zero":false},"axis":{"values":[0.4,0.5,0.6,0.7],"format":".1f","title":null}}},
"layer":[
{"data":{"name":"TULA2_runs"},"mark":{"type":"line","stroke":"#ff7f0e","strokeWidth":0.9,"opacity":0.3,"clip":true},"encoding":{"detail":{"field":"run","type":"nominal"}}},
{"data":{"name":"TULA2"},"mark":{"type":"line","clip":true},"encoding":{"color":{"field":"series","type":"nominal","scale":{"domain":["Baseline","Uncertainty","ML+Uncertainty","Random","ML+Random"],"range":["#808080","#1f77b4","#ff7f0e","#2ca02c","#d62728"]},"legend":{"title":null}},"strokeDash":{"field":"series","type":"nominal","scale":{"domain":["Baseline","Uncertainty","ML+Uncertainty","Random","ML+Random"],"range":[[1,0],[1,0],[1,0],[5.5,2.4],[5.5,2.4]]},"legend":{"title":null}},"strokeWidth":{"field":"series","type":"nominal","scale":{"domain":["Baseline","Uncertainty","ML+Uncertainty","Random","ML+Random"],"range":[1.5,1.5,2.6,1.5,1.5]},"legend":{"title":null}}}}
]},
{"title":"human","width":162,"height":167,
"encoding":{"x":{"field":"x","type":"quantitative","scale":{"domain":[0,25],"nice":false},"axis":{"values":[0,12,25],"format":"d","title":"Given Examples"}},"y":{"field":"acc","type":"quantitative","scale":{"domain":[0.279,0.904],"nice":false,"zero":false},"axis":{"values":[0.4,0.6,0.8],"format":".1f","title":null}}},
"layer":[
{"data":{"name":"human_runs"},"mark":{"type":"line","stroke":"#ff7f0e","strokeWidth":0.9,"opacity":0.3,"clip":true},"encoding":{"detail":{"field":"run","type":"nominal"}}},
{"data":{"name":"human"},"mark":{"type":"line","clip":true},"encoding":{"color":{"field":"series","type":"nominal","scale":{"domain":["Baseline","Uncertainty","ML+Uncertainty","Random","ML+Random"],"range":["#808080","#1f77b4","#ff7f0e","#2ca02c","#d62728"]},"legend":{"title":null}},"strokeDash":{"field":"series","type":"nominal","scale":{"domain":["Baseline","Uncertainty","ML+Uncertainty","Random","ML+Random"],"range":[[1,0],[1,0],[1,0],[5.5,2.4],[5.5,2.4]]},"legend":{"title":null}},"strokeWidth":{"field":"series","type":"nominal","scale":{"domain":["Baseline","Uncertainty","ML+Uncertainty","Random","ML+Random"],"range":[1.5,1.5,2.6,1.5,1.5]},"legend":{"title":null}}}}
]}
],
"columns":4,
"spacing":{"row":48,"column":87},
"bounds":"flush"
}
